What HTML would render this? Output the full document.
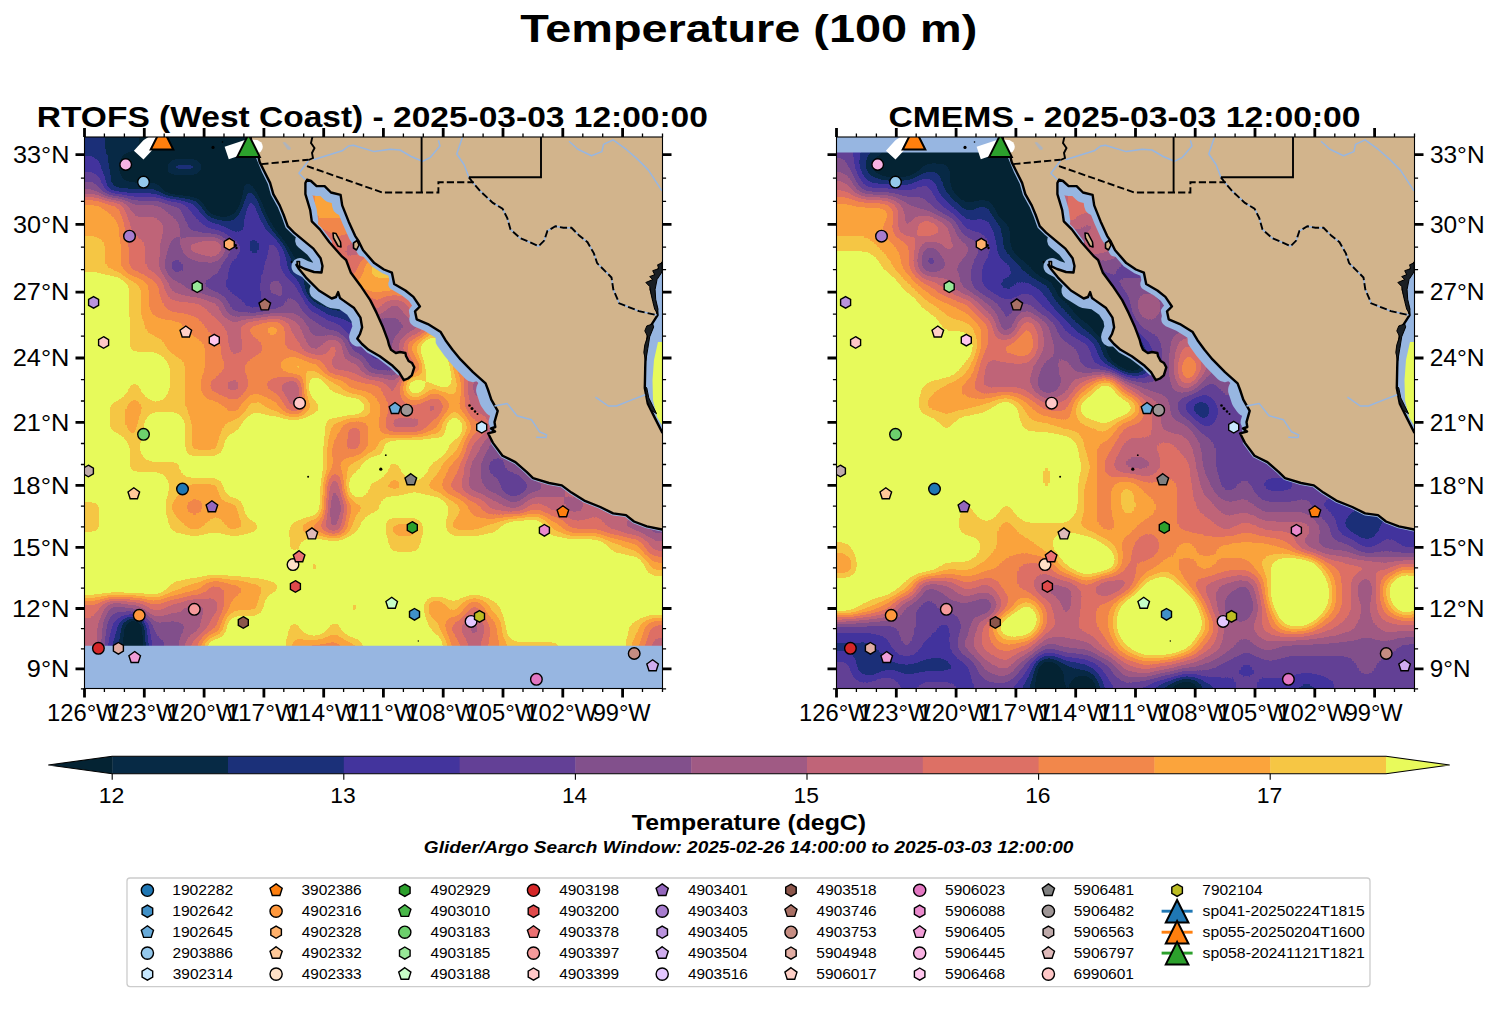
<!DOCTYPE html>
<html><head><meta charset="utf-8"><title>Temperature (100 m)</title>
<style>
html,body{margin:0;padding:0;background:#fff}
body{width:1497px;height:1014px;overflow:hidden;font-family:"Liberation Sans", sans-serif}
svg{display:block}
text{font-family:"Liberation Sans", sans-serif;fill:#000}
</style></head><body>
<svg width="1497" height="1014" viewBox="0 0 1497 1014">
<defs>
<filter id="fl" x="0" y="0" width="100%" height="100%" filterUnits="objectBoundingBox" color-interpolation-filters="sRGB">
<feGaussianBlur stdDeviation="6.5"/>
<feComponentTransfer><feFuncR type="discrete" tableValues="0.0157 0.0157 0.0157 0.0157 0.0275 0.1059 0.2627 0.3882 0.5098 0.6275 0.7529 0.8667 0.9490 0.9843 0.9647 0.9098 0.9098 0.9098 0.9098 0.9098 0.9098"/><feFuncG type="discrete" tableValues="0.1373 0.1373 0.1373 0.1373 0.1647 0.1882 0.2039 0.2510 0.3137 0.3529 0.3922 0.4392 0.5294 0.6431 0.7765 0.9804 0.9804 0.9804 0.9804 0.9804 0.9804"/><feFuncB type="discrete" tableValues="0.2000 0.2000 0.2000 0.2000 0.2706 0.4745 0.6157 0.5882 0.5490 0.5176 0.4706 0.3961 0.2941 0.2353 0.2667 0.3569 0.3569 0.3569 0.3569 0.3569 0.3569"/></feComponentTransfer>
</filter>
<filter id="fr" x="0" y="0" width="100%" height="100%" filterUnits="objectBoundingBox" color-interpolation-filters="sRGB">
<feGaussianBlur stdDeviation="7.5"/>
<feComponentTransfer><feFuncR type="discrete" tableValues="0.0157 0.0157 0.0157 0.0157 0.0275 0.1059 0.2627 0.3882 0.5098 0.6275 0.7529 0.8667 0.9490 0.9843 0.9647 0.9098 0.9098 0.9098 0.9098 0.9098 0.9098"/><feFuncG type="discrete" tableValues="0.1373 0.1373 0.1373 0.1373 0.1647 0.1882 0.2039 0.2510 0.3137 0.3529 0.3922 0.4392 0.5294 0.6431 0.7765 0.9804 0.9804 0.9804 0.9804 0.9804 0.9804"/><feFuncB type="discrete" tableValues="0.2000 0.2000 0.2000 0.2000 0.2706 0.4745 0.6157 0.5882 0.5490 0.5176 0.4706 0.3961 0.2941 0.2353 0.2667 0.3569 0.3569 0.3569 0.3569 0.3569 0.3569"/></feComponentTransfer>
</filter>
<clipPath id="cl"><rect x="84.5" y="137.0" width="578.0" height="551.5"/></clipPath>
<clipPath id="cr"><rect x="836.5" y="137.0" width="578.0" height="551.5"/></clipPath>
<clipPath id="dl"><rect x="84.5" y="137.0" width="578.0" height="508.8"/></clipPath>
<clipPath id="dr"><rect x="836.5" y="152.5" width="578.0" height="536.0"/></clipPath>
</defs>
<text x="520.23" y="42.40" font-size="39.60" font-weight="bold" textLength="457.01" lengthAdjust="spacingAndGlyphs">Temperature (100 m)</text>
<text x="36.82" y="126.50" font-size="28.70" font-weight="bold" textLength="671.09" lengthAdjust="spacingAndGlyphs">RTOFS (West Coast) - 2025-03-03 12:00:00</text>
<text x="888.45" y="126.50" font-size="28.70" font-weight="bold" textLength="472.18" lengthAdjust="spacingAndGlyphs">CMEMS - 2025-03-03 12:00:00</text>
<rect x="84.5" y="137.0" width="578.0" height="551.5" fill="#97b6e1"/>
<g clip-path="url(#dl)"><g filter="url(#fl)">
<rect x="24.5" y="77.0" width="700.0" height="680.0" fill="#737373"/>
<rect x="24.5" y="77.0" width="80.5" height="20.5" fill="#434343"/>
<rect x="104.5" y="77.0" width="40.5" height="20.5" fill="#373737"/>
<rect x="144.5" y="77.0" width="160.5" height="20.5" fill="#121212"/>
<rect x="304.5" y="77.0" width="420.5" height="20.5" fill="#a4a4a4"/>
<rect x="24.5" y="97.0" width="80.5" height="20.5" fill="#434343"/>
<rect x="104.5" y="97.0" width="40.5" height="20.5" fill="#373737"/>
<rect x="144.5" y="97.0" width="160.5" height="20.5" fill="#121212"/>
<rect x="304.5" y="97.0" width="420.5" height="20.5" fill="#a4a4a4"/>
<rect x="24.5" y="117.0" width="80.5" height="20.5" fill="#434343"/>
<rect x="104.5" y="117.0" width="40.5" height="20.5" fill="#373737"/>
<rect x="144.5" y="117.0" width="160.5" height="20.5" fill="#121212"/>
<rect x="304.5" y="117.0" width="420.5" height="20.5" fill="#a4a4a4"/>
<rect x="24.5" y="137.0" width="80.5" height="20.5" fill="#434343"/>
<rect x="104.5" y="137.0" width="40.5" height="20.5" fill="#373737"/>
<rect x="144.5" y="137.0" width="160.5" height="20.5" fill="#121212"/>
<rect x="304.5" y="137.0" width="420.5" height="20.5" fill="#a4a4a4"/>
<rect x="24.5" y="157.0" width="80.5" height="20.5" fill="#4f4f4f"/>
<rect x="104.5" y="157.0" width="20.5" height="20.5" fill="#373737"/>
<rect x="124.5" y="157.0" width="40.5" height="20.5" fill="#121212"/>
<rect x="164.5" y="157.0" width="40.5" height="20.5" fill="#434343"/>
<rect x="204.5" y="157.0" width="100.5" height="20.5" fill="#121212"/>
<rect x="304.5" y="157.0" width="420.5" height="20.5" fill="#a4a4a4"/>
<rect x="24.5" y="177.0" width="80.5" height="20.5" fill="#676767"/>
<rect x="104.5" y="177.0" width="60.5" height="20.5" fill="#373737"/>
<rect x="164.5" y="177.0" width="60.5" height="20.5" fill="#121212"/>
<rect x="224.5" y="177.0" width="20.5" height="20.5" fill="#373737"/>
<rect x="244.5" y="177.0" width="20.5" height="20.5" fill="#434343"/>
<rect x="264.5" y="177.0" width="40.5" height="20.5" fill="#121212"/>
<rect x="304.5" y="177.0" width="420.5" height="20.5" fill="#a4a4a4"/>
<rect x="24.5" y="197.0" width="80.5" height="20.5" fill="#a4a4a4"/>
<rect x="104.5" y="197.0" width="20.5" height="20.5" fill="#989898"/>
<rect x="124.5" y="197.0" width="40.5" height="20.5" fill="#737373"/>
<rect x="164.5" y="197.0" width="20.5" height="20.5" fill="#676767"/>
<rect x="184.5" y="197.0" width="20.5" height="20.5" fill="#4f4f4f"/>
<rect x="204.5" y="197.0" width="20.5" height="20.5" fill="#373737"/>
<rect x="224.5" y="197.0" width="20.5" height="20.5" fill="#434343"/>
<rect x="244.5" y="197.0" width="20.5" height="20.5" fill="#4f4f4f"/>
<rect x="264.5" y="197.0" width="40.5" height="20.5" fill="#373737"/>
<rect x="304.5" y="197.0" width="420.5" height="20.5" fill="#a4a4a4"/>
<rect x="24.5" y="217.0" width="100.5" height="20.5" fill="#a4a4a4"/>
<rect x="124.5" y="217.0" width="40.5" height="20.5" fill="#808080"/>
<rect x="164.5" y="217.0" width="20.5" height="20.5" fill="#737373"/>
<rect x="184.5" y="217.0" width="20.5" height="20.5" fill="#5b5b5b"/>
<rect x="204.5" y="217.0" width="20.5" height="20.5" fill="#4f4f4f"/>
<rect x="224.5" y="217.0" width="20.5" height="20.5" fill="#434343"/>
<rect x="244.5" y="217.0" width="40.5" height="20.5" fill="#4f4f4f"/>
<rect x="284.5" y="217.0" width="20.5" height="20.5" fill="#373737"/>
<rect x="304.5" y="217.0" width="420.5" height="20.5" fill="#989898"/>
<rect x="24.5" y="237.0" width="80.5" height="20.5" fill="#b0b0b0"/>
<rect x="104.5" y="237.0" width="20.5" height="20.5" fill="#a4a4a4"/>
<rect x="124.5" y="237.0" width="20.5" height="20.5" fill="#8c8c8c"/>
<rect x="144.5" y="237.0" width="20.5" height="20.5" fill="#808080"/>
<rect x="164.5" y="237.0" width="20.5" height="20.5" fill="#676767"/>
<rect x="184.5" y="237.0" width="20.5" height="20.5" fill="#808080"/>
<rect x="204.5" y="237.0" width="20.5" height="20.5" fill="#8c8c8c"/>
<rect x="224.5" y="237.0" width="20.5" height="20.5" fill="#5b5b5b"/>
<rect x="244.5" y="237.0" width="20.5" height="20.5" fill="#434343"/>
<rect x="264.5" y="237.0" width="20.5" height="20.5" fill="#5b5b5b"/>
<rect x="284.5" y="237.0" width="40.5" height="20.5" fill="#434343"/>
<rect x="324.5" y="237.0" width="20.5" height="20.5" fill="#8c8c8c"/>
<rect x="344.5" y="237.0" width="380.5" height="20.5" fill="#808080"/>
<rect x="24.5" y="257.0" width="80.5" height="20.5" fill="#b0b0b0"/>
<rect x="104.5" y="257.0" width="20.5" height="20.5" fill="#a4a4a4"/>
<rect x="124.5" y="257.0" width="20.5" height="20.5" fill="#8c8c8c"/>
<rect x="144.5" y="257.0" width="20.5" height="20.5" fill="#808080"/>
<rect x="164.5" y="257.0" width="20.5" height="20.5" fill="#5b5b5b"/>
<rect x="184.5" y="257.0" width="40.5" height="20.5" fill="#676767"/>
<rect x="224.5" y="257.0" width="40.5" height="20.5" fill="#4f4f4f"/>
<rect x="264.5" y="257.0" width="20.5" height="20.5" fill="#5b5b5b"/>
<rect x="284.5" y="257.0" width="20.5" height="20.5" fill="#434343"/>
<rect x="304.5" y="257.0" width="20.5" height="20.5" fill="#373737"/>
<rect x="324.5" y="257.0" width="20.5" height="20.5" fill="#808080"/>
<rect x="344.5" y="257.0" width="20.5" height="20.5" fill="#8c8c8c"/>
<rect x="364.5" y="257.0" width="360.5" height="20.5" fill="#b0b0b0"/>
<rect x="24.5" y="277.0" width="100.5" height="20.5" fill="#cecece"/>
<rect x="124.5" y="277.0" width="20.5" height="20.5" fill="#b0b0b0"/>
<rect x="144.5" y="277.0" width="20.5" height="20.5" fill="#989898"/>
<rect x="164.5" y="277.0" width="20.5" height="20.5" fill="#737373"/>
<rect x="184.5" y="277.0" width="20.5" height="20.5" fill="#676767"/>
<rect x="204.5" y="277.0" width="20.5" height="20.5" fill="#5b5b5b"/>
<rect x="224.5" y="277.0" width="40.5" height="20.5" fill="#4f4f4f"/>
<rect x="264.5" y="277.0" width="20.5" height="20.5" fill="#676767"/>
<rect x="284.5" y="277.0" width="20.5" height="20.5" fill="#5b5b5b"/>
<rect x="304.5" y="277.0" width="40.5" height="20.5" fill="#434343"/>
<rect x="344.5" y="277.0" width="380.5" height="20.5" fill="#a4a4a4"/>
<rect x="24.5" y="297.0" width="100.5" height="20.5" fill="#cecece"/>
<rect x="124.5" y="297.0" width="20.5" height="20.5" fill="#b0b0b0"/>
<rect x="144.5" y="297.0" width="20.5" height="20.5" fill="#989898"/>
<rect x="164.5" y="297.0" width="40.5" height="20.5" fill="#8c8c8c"/>
<rect x="204.5" y="297.0" width="20.5" height="20.5" fill="#808080"/>
<rect x="224.5" y="297.0" width="20.5" height="20.5" fill="#5b5b5b"/>
<rect x="244.5" y="297.0" width="20.5" height="20.5" fill="#4f4f4f"/>
<rect x="264.5" y="297.0" width="20.5" height="20.5" fill="#5b5b5b"/>
<rect x="284.5" y="297.0" width="20.5" height="20.5" fill="#676767"/>
<rect x="304.5" y="297.0" width="20.5" height="20.5" fill="#4f4f4f"/>
<rect x="324.5" y="297.0" width="20.5" height="20.5" fill="#373737"/>
<rect x="344.5" y="297.0" width="20.5" height="20.5" fill="#434343"/>
<rect x="364.5" y="297.0" width="20.5" height="20.5" fill="#8c8c8c"/>
<rect x="384.5" y="297.0" width="20.5" height="20.5" fill="#737373"/>
<rect x="404.5" y="297.0" width="320.5" height="20.5" fill="#8c8c8c"/>
<rect x="24.5" y="317.0" width="100.5" height="20.5" fill="#cecece"/>
<rect x="124.5" y="317.0" width="20.5" height="20.5" fill="#b0b0b0"/>
<rect x="144.5" y="317.0" width="40.5" height="20.5" fill="#a4a4a4"/>
<rect x="184.5" y="317.0" width="20.5" height="20.5" fill="#989898"/>
<rect x="204.5" y="317.0" width="20.5" height="20.5" fill="#8c8c8c"/>
<rect x="224.5" y="317.0" width="20.5" height="20.5" fill="#808080"/>
<rect x="244.5" y="317.0" width="20.5" height="20.5" fill="#989898"/>
<rect x="264.5" y="317.0" width="20.5" height="20.5" fill="#a4a4a4"/>
<rect x="284.5" y="317.0" width="20.5" height="20.5" fill="#808080"/>
<rect x="304.5" y="317.0" width="20.5" height="20.5" fill="#676767"/>
<rect x="324.5" y="317.0" width="20.5" height="20.5" fill="#5b5b5b"/>
<rect x="344.5" y="317.0" width="20.5" height="20.5" fill="#434343"/>
<rect x="364.5" y="317.0" width="20.5" height="20.5" fill="#5b5b5b"/>
<rect x="384.5" y="317.0" width="20.5" height="20.5" fill="#676767"/>
<rect x="404.5" y="317.0" width="20.5" height="20.5" fill="#737373"/>
<rect x="424.5" y="317.0" width="200.5" height="20.5" fill="#989898"/>
<rect x="624.5" y="317.0" width="100.5" height="20.5" fill="#cecece"/>
<rect x="24.5" y="337.0" width="100.5" height="20.5" fill="#cecece"/>
<rect x="124.5" y="337.0" width="40.5" height="20.5" fill="#b0b0b0"/>
<rect x="164.5" y="337.0" width="40.5" height="20.5" fill="#a4a4a4"/>
<rect x="204.5" y="337.0" width="20.5" height="20.5" fill="#989898"/>
<rect x="224.5" y="337.0" width="20.5" height="20.5" fill="#808080"/>
<rect x="244.5" y="337.0" width="20.5" height="20.5" fill="#8c8c8c"/>
<rect x="264.5" y="337.0" width="20.5" height="20.5" fill="#989898"/>
<rect x="284.5" y="337.0" width="20.5" height="20.5" fill="#8c8c8c"/>
<rect x="304.5" y="337.0" width="20.5" height="20.5" fill="#737373"/>
<rect x="324.5" y="337.0" width="20.5" height="20.5" fill="#8c8c8c"/>
<rect x="344.5" y="337.0" width="20.5" height="20.5" fill="#5b5b5b"/>
<rect x="364.5" y="337.0" width="20.5" height="20.5" fill="#434343"/>
<rect x="384.5" y="337.0" width="20.5" height="20.5" fill="#737373"/>
<rect x="404.5" y="337.0" width="20.5" height="20.5" fill="#a4a4a4"/>
<rect x="424.5" y="337.0" width="20.5" height="20.5" fill="#cecece"/>
<rect x="444.5" y="337.0" width="180.5" height="20.5" fill="#989898"/>
<rect x="624.5" y="337.0" width="100.5" height="20.5" fill="#cecece"/>
<rect x="24.5" y="357.0" width="140.5" height="20.5" fill="#cecece"/>
<rect x="164.5" y="357.0" width="20.5" height="20.5" fill="#b0b0b0"/>
<rect x="184.5" y="357.0" width="20.5" height="20.5" fill="#a4a4a4"/>
<rect x="204.5" y="357.0" width="20.5" height="20.5" fill="#989898"/>
<rect x="224.5" y="357.0" width="20.5" height="20.5" fill="#8c8c8c"/>
<rect x="244.5" y="357.0" width="40.5" height="20.5" fill="#989898"/>
<rect x="284.5" y="357.0" width="20.5" height="20.5" fill="#b0b0b0"/>
<rect x="304.5" y="357.0" width="20.5" height="20.5" fill="#a4a4a4"/>
<rect x="324.5" y="357.0" width="40.5" height="20.5" fill="#808080"/>
<rect x="364.5" y="357.0" width="20.5" height="20.5" fill="#5b5b5b"/>
<rect x="384.5" y="357.0" width="20.5" height="20.5" fill="#676767"/>
<rect x="404.5" y="357.0" width="20.5" height="20.5" fill="#8c8c8c"/>
<rect x="424.5" y="357.0" width="20.5" height="20.5" fill="#b0b0b0"/>
<rect x="444.5" y="357.0" width="20.5" height="20.5" fill="#989898"/>
<rect x="464.5" y="357.0" width="160.5" height="20.5" fill="#808080"/>
<rect x="624.5" y="357.0" width="100.5" height="20.5" fill="#cecece"/>
<rect x="24.5" y="377.0" width="100.5" height="20.5" fill="#cecece"/>
<rect x="124.5" y="377.0" width="20.5" height="20.5" fill="#b0b0b0"/>
<rect x="144.5" y="377.0" width="20.5" height="20.5" fill="#cecece"/>
<rect x="164.5" y="377.0" width="20.5" height="20.5" fill="#b0b0b0"/>
<rect x="184.5" y="377.0" width="20.5" height="20.5" fill="#a4a4a4"/>
<rect x="204.5" y="377.0" width="20.5" height="20.5" fill="#8c8c8c"/>
<rect x="224.5" y="377.0" width="20.5" height="20.5" fill="#808080"/>
<rect x="244.5" y="377.0" width="20.5" height="20.5" fill="#989898"/>
<rect x="264.5" y="377.0" width="20.5" height="20.5" fill="#8c8c8c"/>
<rect x="284.5" y="377.0" width="20.5" height="20.5" fill="#737373"/>
<rect x="304.5" y="377.0" width="20.5" height="20.5" fill="#cecece"/>
<rect x="324.5" y="377.0" width="20.5" height="20.5" fill="#b0b0b0"/>
<rect x="344.5" y="377.0" width="40.5" height="20.5" fill="#989898"/>
<rect x="384.5" y="377.0" width="20.5" height="20.5" fill="#808080"/>
<rect x="404.5" y="377.0" width="20.5" height="20.5" fill="#cecece"/>
<rect x="424.5" y="377.0" width="20.5" height="20.5" fill="#a4a4a4"/>
<rect x="444.5" y="377.0" width="20.5" height="20.5" fill="#b0b0b0"/>
<rect x="464.5" y="377.0" width="160.5" height="20.5" fill="#737373"/>
<rect x="624.5" y="377.0" width="100.5" height="20.5" fill="#cecece"/>
<rect x="24.5" y="397.0" width="80.5" height="20.5" fill="#cecece"/>
<rect x="104.5" y="397.0" width="20.5" height="20.5" fill="#b0b0b0"/>
<rect x="124.5" y="397.0" width="20.5" height="20.5" fill="#a4a4a4"/>
<rect x="144.5" y="397.0" width="40.5" height="20.5" fill="#b0b0b0"/>
<rect x="184.5" y="397.0" width="40.5" height="20.5" fill="#a4a4a4"/>
<rect x="224.5" y="397.0" width="20.5" height="20.5" fill="#989898"/>
<rect x="244.5" y="397.0" width="20.5" height="20.5" fill="#b0b0b0"/>
<rect x="264.5" y="397.0" width="20.5" height="20.5" fill="#a4a4a4"/>
<rect x="284.5" y="397.0" width="20.5" height="20.5" fill="#808080"/>
<rect x="304.5" y="397.0" width="20.5" height="20.5" fill="#b0b0b0"/>
<rect x="324.5" y="397.0" width="40.5" height="20.5" fill="#cecece"/>
<rect x="364.5" y="397.0" width="20.5" height="20.5" fill="#a4a4a4"/>
<rect x="384.5" y="397.0" width="40.5" height="20.5" fill="#8c8c8c"/>
<rect x="424.5" y="397.0" width="20.5" height="20.5" fill="#808080"/>
<rect x="444.5" y="397.0" width="20.5" height="20.5" fill="#a4a4a4"/>
<rect x="464.5" y="397.0" width="160.5" height="20.5" fill="#808080"/>
<rect x="624.5" y="397.0" width="100.5" height="20.5" fill="#cecece"/>
<rect x="24.5" y="417.0" width="80.5" height="20.5" fill="#cecece"/>
<rect x="104.5" y="417.0" width="20.5" height="20.5" fill="#b0b0b0"/>
<rect x="124.5" y="417.0" width="20.5" height="20.5" fill="#a4a4a4"/>
<rect x="144.5" y="417.0" width="40.5" height="20.5" fill="#cecece"/>
<rect x="184.5" y="417.0" width="40.5" height="20.5" fill="#a4a4a4"/>
<rect x="224.5" y="417.0" width="20.5" height="20.5" fill="#b0b0b0"/>
<rect x="244.5" y="417.0" width="80.5" height="20.5" fill="#cecece"/>
<rect x="324.5" y="417.0" width="20.5" height="20.5" fill="#a4a4a4"/>
<rect x="344.5" y="417.0" width="20.5" height="20.5" fill="#8c8c8c"/>
<rect x="364.5" y="417.0" width="20.5" height="20.5" fill="#a4a4a4"/>
<rect x="384.5" y="417.0" width="40.5" height="20.5" fill="#808080"/>
<rect x="424.5" y="417.0" width="20.5" height="20.5" fill="#989898"/>
<rect x="444.5" y="417.0" width="20.5" height="20.5" fill="#cecece"/>
<rect x="464.5" y="417.0" width="20.5" height="20.5" fill="#989898"/>
<rect x="484.5" y="417.0" width="140.5" height="20.5" fill="#808080"/>
<rect x="624.5" y="417.0" width="100.5" height="20.5" fill="#cecece"/>
<rect x="24.5" y="437.0" width="100.5" height="20.5" fill="#cecece"/>
<rect x="124.5" y="437.0" width="20.5" height="20.5" fill="#b0b0b0"/>
<rect x="144.5" y="437.0" width="40.5" height="20.5" fill="#cecece"/>
<rect x="184.5" y="437.0" width="40.5" height="20.5" fill="#a4a4a4"/>
<rect x="224.5" y="437.0" width="100.5" height="20.5" fill="#cecece"/>
<rect x="324.5" y="437.0" width="20.5" height="20.5" fill="#989898"/>
<rect x="344.5" y="437.0" width="20.5" height="20.5" fill="#8c8c8c"/>
<rect x="364.5" y="437.0" width="20.5" height="20.5" fill="#a4a4a4"/>
<rect x="384.5" y="437.0" width="60.5" height="20.5" fill="#cecece"/>
<rect x="444.5" y="437.0" width="20.5" height="20.5" fill="#b0b0b0"/>
<rect x="464.5" y="437.0" width="20.5" height="20.5" fill="#808080"/>
<rect x="484.5" y="437.0" width="240.5" height="20.5" fill="#676767"/>
<rect x="24.5" y="457.0" width="100.5" height="20.5" fill="#cecece"/>
<rect x="124.5" y="457.0" width="60.5" height="20.5" fill="#b0b0b0"/>
<rect x="184.5" y="457.0" width="140.5" height="20.5" fill="#cecece"/>
<rect x="324.5" y="457.0" width="20.5" height="20.5" fill="#989898"/>
<rect x="344.5" y="457.0" width="20.5" height="20.5" fill="#b0b0b0"/>
<rect x="364.5" y="457.0" width="20.5" height="20.5" fill="#cecece"/>
<rect x="384.5" y="457.0" width="20.5" height="20.5" fill="#b0b0b0"/>
<rect x="404.5" y="457.0" width="20.5" height="20.5" fill="#cecece"/>
<rect x="424.5" y="457.0" width="20.5" height="20.5" fill="#b0b0b0"/>
<rect x="444.5" y="457.0" width="20.5" height="20.5" fill="#989898"/>
<rect x="464.5" y="457.0" width="20.5" height="20.5" fill="#737373"/>
<rect x="484.5" y="457.0" width="20.5" height="20.5" fill="#5b5b5b"/>
<rect x="504.5" y="457.0" width="20.5" height="20.5" fill="#676767"/>
<rect x="524.5" y="457.0" width="200.5" height="20.5" fill="#808080"/>
<rect x="24.5" y="477.0" width="140.5" height="20.5" fill="#cecece"/>
<rect x="164.5" y="477.0" width="20.5" height="20.5" fill="#b0b0b0"/>
<rect x="184.5" y="477.0" width="40.5" height="20.5" fill="#a4a4a4"/>
<rect x="224.5" y="477.0" width="100.5" height="20.5" fill="#cecece"/>
<rect x="324.5" y="477.0" width="20.5" height="20.5" fill="#737373"/>
<rect x="344.5" y="477.0" width="20.5" height="20.5" fill="#cecece"/>
<rect x="364.5" y="477.0" width="20.5" height="20.5" fill="#b0b0b0"/>
<rect x="384.5" y="477.0" width="20.5" height="20.5" fill="#a4a4a4"/>
<rect x="404.5" y="477.0" width="20.5" height="20.5" fill="#b0b0b0"/>
<rect x="424.5" y="477.0" width="20.5" height="20.5" fill="#a4a4a4"/>
<rect x="444.5" y="477.0" width="20.5" height="20.5" fill="#8c8c8c"/>
<rect x="464.5" y="477.0" width="20.5" height="20.5" fill="#737373"/>
<rect x="484.5" y="477.0" width="20.5" height="20.5" fill="#676767"/>
<rect x="504.5" y="477.0" width="20.5" height="20.5" fill="#4f4f4f"/>
<rect x="524.5" y="477.0" width="20.5" height="20.5" fill="#676767"/>
<rect x="544.5" y="477.0" width="20.5" height="20.5" fill="#737373"/>
<rect x="564.5" y="477.0" width="160.5" height="20.5" fill="#808080"/>
<rect x="24.5" y="497.0" width="80.5" height="20.5" fill="#b0b0b0"/>
<rect x="104.5" y="497.0" width="60.5" height="20.5" fill="#cecece"/>
<rect x="164.5" y="497.0" width="20.5" height="20.5" fill="#a4a4a4"/>
<rect x="184.5" y="497.0" width="20.5" height="20.5" fill="#989898"/>
<rect x="204.5" y="497.0" width="40.5" height="20.5" fill="#a4a4a4"/>
<rect x="244.5" y="497.0" width="80.5" height="20.5" fill="#cecece"/>
<rect x="324.5" y="497.0" width="20.5" height="20.5" fill="#676767"/>
<rect x="344.5" y="497.0" width="20.5" height="20.5" fill="#a4a4a4"/>
<rect x="364.5" y="497.0" width="20.5" height="20.5" fill="#b0b0b0"/>
<rect x="384.5" y="497.0" width="60.5" height="20.5" fill="#cecece"/>
<rect x="444.5" y="497.0" width="20.5" height="20.5" fill="#b0b0b0"/>
<rect x="464.5" y="497.0" width="20.5" height="20.5" fill="#989898"/>
<rect x="484.5" y="497.0" width="20.5" height="20.5" fill="#808080"/>
<rect x="504.5" y="497.0" width="20.5" height="20.5" fill="#737373"/>
<rect x="524.5" y="497.0" width="20.5" height="20.5" fill="#8c8c8c"/>
<rect x="544.5" y="497.0" width="20.5" height="20.5" fill="#808080"/>
<rect x="564.5" y="497.0" width="20.5" height="20.5" fill="#737373"/>
<rect x="584.5" y="497.0" width="140.5" height="20.5" fill="#808080"/>
<rect x="24.5" y="517.0" width="80.5" height="20.5" fill="#b0b0b0"/>
<rect x="104.5" y="517.0" width="60.5" height="20.5" fill="#cecece"/>
<rect x="164.5" y="517.0" width="20.5" height="20.5" fill="#b0b0b0"/>
<rect x="184.5" y="517.0" width="20.5" height="20.5" fill="#a4a4a4"/>
<rect x="204.5" y="517.0" width="20.5" height="20.5" fill="#b0b0b0"/>
<rect x="224.5" y="517.0" width="20.5" height="20.5" fill="#a4a4a4"/>
<rect x="244.5" y="517.0" width="20.5" height="20.5" fill="#b0b0b0"/>
<rect x="264.5" y="517.0" width="20.5" height="20.5" fill="#cecece"/>
<rect x="284.5" y="517.0" width="20.5" height="20.5" fill="#b0b0b0"/>
<rect x="304.5" y="517.0" width="20.5" height="20.5" fill="#989898"/>
<rect x="324.5" y="517.0" width="20.5" height="20.5" fill="#737373"/>
<rect x="344.5" y="517.0" width="20.5" height="20.5" fill="#b0b0b0"/>
<rect x="364.5" y="517.0" width="20.5" height="20.5" fill="#cecece"/>
<rect x="384.5" y="517.0" width="40.5" height="20.5" fill="#a4a4a4"/>
<rect x="424.5" y="517.0" width="20.5" height="20.5" fill="#cecece"/>
<rect x="444.5" y="517.0" width="40.5" height="20.5" fill="#a4a4a4"/>
<rect x="484.5" y="517.0" width="20.5" height="20.5" fill="#b0b0b0"/>
<rect x="504.5" y="517.0" width="40.5" height="20.5" fill="#cecece"/>
<rect x="544.5" y="517.0" width="20.5" height="20.5" fill="#a4a4a4"/>
<rect x="564.5" y="517.0" width="40.5" height="20.5" fill="#8c8c8c"/>
<rect x="604.5" y="517.0" width="20.5" height="20.5" fill="#808080"/>
<rect x="624.5" y="517.0" width="20.5" height="20.5" fill="#737373"/>
<rect x="644.5" y="517.0" width="80.5" height="20.5" fill="#676767"/>
<rect x="24.5" y="537.0" width="260.5" height="20.5" fill="#cecece"/>
<rect x="284.5" y="537.0" width="20.5" height="20.5" fill="#b0b0b0"/>
<rect x="304.5" y="537.0" width="80.5" height="20.5" fill="#cecece"/>
<rect x="384.5" y="537.0" width="40.5" height="20.5" fill="#b0b0b0"/>
<rect x="424.5" y="537.0" width="180.5" height="20.5" fill="#cecece"/>
<rect x="604.5" y="537.0" width="20.5" height="20.5" fill="#b0b0b0"/>
<rect x="624.5" y="537.0" width="20.5" height="20.5" fill="#a4a4a4"/>
<rect x="644.5" y="537.0" width="80.5" height="20.5" fill="#808080"/>
<rect x="24.5" y="557.0" width="280.5" height="20.5" fill="#cecece"/>
<rect x="304.5" y="557.0" width="20.5" height="20.5" fill="#b0b0b0"/>
<rect x="324.5" y="557.0" width="320.5" height="20.5" fill="#cecece"/>
<rect x="644.5" y="557.0" width="80.5" height="20.5" fill="#a4a4a4"/>
<rect x="24.5" y="577.0" width="140.5" height="20.5" fill="#cecece"/>
<rect x="164.5" y="577.0" width="20.5" height="20.5" fill="#b0b0b0"/>
<rect x="184.5" y="577.0" width="20.5" height="20.5" fill="#a4a4a4"/>
<rect x="204.5" y="577.0" width="20.5" height="20.5" fill="#8c8c8c"/>
<rect x="224.5" y="577.0" width="20.5" height="20.5" fill="#989898"/>
<rect x="244.5" y="577.0" width="20.5" height="20.5" fill="#a4a4a4"/>
<rect x="264.5" y="577.0" width="20.5" height="20.5" fill="#b0b0b0"/>
<rect x="284.5" y="577.0" width="440.5" height="20.5" fill="#cecece"/>
<rect x="24.5" y="597.0" width="80.5" height="20.5" fill="#8c8c8c"/>
<rect x="104.5" y="597.0" width="20.5" height="20.5" fill="#676767"/>
<rect x="124.5" y="597.0" width="20.5" height="20.5" fill="#737373"/>
<rect x="144.5" y="597.0" width="20.5" height="20.5" fill="#8c8c8c"/>
<rect x="164.5" y="597.0" width="20.5" height="20.5" fill="#808080"/>
<rect x="184.5" y="597.0" width="20.5" height="20.5" fill="#737373"/>
<rect x="204.5" y="597.0" width="20.5" height="20.5" fill="#808080"/>
<rect x="224.5" y="597.0" width="40.5" height="20.5" fill="#a4a4a4"/>
<rect x="264.5" y="597.0" width="80.5" height="20.5" fill="#cecece"/>
<rect x="344.5" y="597.0" width="20.5" height="20.5" fill="#b0b0b0"/>
<rect x="364.5" y="597.0" width="60.5" height="20.5" fill="#cecece"/>
<rect x="424.5" y="597.0" width="20.5" height="20.5" fill="#989898"/>
<rect x="444.5" y="597.0" width="20.5" height="20.5" fill="#b0b0b0"/>
<rect x="464.5" y="597.0" width="20.5" height="20.5" fill="#8c8c8c"/>
<rect x="484.5" y="597.0" width="20.5" height="20.5" fill="#b0b0b0"/>
<rect x="504.5" y="597.0" width="220.5" height="20.5" fill="#cecece"/>
<rect x="24.5" y="617.0" width="80.5" height="20.5" fill="#808080"/>
<rect x="104.5" y="617.0" width="20.5" height="20.5" fill="#4f4f4f"/>
<rect x="124.5" y="617.0" width="20.5" height="20.5" fill="#121212"/>
<rect x="144.5" y="617.0" width="40.5" height="20.5" fill="#676767"/>
<rect x="184.5" y="617.0" width="20.5" height="20.5" fill="#737373"/>
<rect x="204.5" y="617.0" width="20.5" height="20.5" fill="#8c8c8c"/>
<rect x="224.5" y="617.0" width="60.5" height="20.5" fill="#cecece"/>
<rect x="284.5" y="617.0" width="20.5" height="20.5" fill="#b0b0b0"/>
<rect x="304.5" y="617.0" width="20.5" height="20.5" fill="#cecece"/>
<rect x="324.5" y="617.0" width="20.5" height="20.5" fill="#b0b0b0"/>
<rect x="344.5" y="617.0" width="80.5" height="20.5" fill="#cecece"/>
<rect x="424.5" y="617.0" width="20.5" height="20.5" fill="#b0b0b0"/>
<rect x="444.5" y="617.0" width="20.5" height="20.5" fill="#8c8c8c"/>
<rect x="464.5" y="617.0" width="20.5" height="20.5" fill="#737373"/>
<rect x="484.5" y="617.0" width="20.5" height="20.5" fill="#989898"/>
<rect x="504.5" y="617.0" width="120.5" height="20.5" fill="#cecece"/>
<rect x="624.5" y="617.0" width="20.5" height="20.5" fill="#b0b0b0"/>
<rect x="644.5" y="617.0" width="80.5" height="20.5" fill="#8c8c8c"/>
<rect x="24.5" y="637.0" width="80.5" height="20.5" fill="#808080"/>
<rect x="104.5" y="637.0" width="20.5" height="20.5" fill="#434343"/>
<rect x="124.5" y="637.0" width="20.5" height="20.5" fill="#121212"/>
<rect x="144.5" y="637.0" width="20.5" height="20.5" fill="#5b5b5b"/>
<rect x="164.5" y="637.0" width="20.5" height="20.5" fill="#676767"/>
<rect x="184.5" y="637.0" width="20.5" height="20.5" fill="#8c8c8c"/>
<rect x="204.5" y="637.0" width="80.5" height="20.5" fill="#cecece"/>
<rect x="284.5" y="637.0" width="20.5" height="20.5" fill="#a4a4a4"/>
<rect x="304.5" y="637.0" width="40.5" height="20.5" fill="#989898"/>
<rect x="344.5" y="637.0" width="20.5" height="20.5" fill="#a4a4a4"/>
<rect x="364.5" y="637.0" width="80.5" height="20.5" fill="#cecece"/>
<rect x="444.5" y="637.0" width="20.5" height="20.5" fill="#989898"/>
<rect x="464.5" y="637.0" width="20.5" height="20.5" fill="#808080"/>
<rect x="484.5" y="637.0" width="20.5" height="20.5" fill="#989898"/>
<rect x="504.5" y="637.0" width="60.5" height="20.5" fill="#b0b0b0"/>
<rect x="564.5" y="637.0" width="60.5" height="20.5" fill="#cecece"/>
<rect x="624.5" y="637.0" width="20.5" height="20.5" fill="#a4a4a4"/>
<rect x="644.5" y="637.0" width="80.5" height="20.5" fill="#808080"/>
<rect x="24.5" y="657.0" width="80.5" height="20.5" fill="#808080"/>
<rect x="104.5" y="657.0" width="20.5" height="20.5" fill="#434343"/>
<rect x="124.5" y="657.0" width="20.5" height="20.5" fill="#121212"/>
<rect x="144.5" y="657.0" width="20.5" height="20.5" fill="#5b5b5b"/>
<rect x="164.5" y="657.0" width="20.5" height="20.5" fill="#676767"/>
<rect x="184.5" y="657.0" width="20.5" height="20.5" fill="#8c8c8c"/>
<rect x="204.5" y="657.0" width="80.5" height="20.5" fill="#cecece"/>
<rect x="284.5" y="657.0" width="20.5" height="20.5" fill="#a4a4a4"/>
<rect x="304.5" y="657.0" width="40.5" height="20.5" fill="#989898"/>
<rect x="344.5" y="657.0" width="20.5" height="20.5" fill="#a4a4a4"/>
<rect x="364.5" y="657.0" width="80.5" height="20.5" fill="#cecece"/>
<rect x="444.5" y="657.0" width="20.5" height="20.5" fill="#989898"/>
<rect x="464.5" y="657.0" width="20.5" height="20.5" fill="#808080"/>
<rect x="484.5" y="657.0" width="20.5" height="20.5" fill="#989898"/>
<rect x="504.5" y="657.0" width="60.5" height="20.5" fill="#b0b0b0"/>
<rect x="564.5" y="657.0" width="60.5" height="20.5" fill="#cecece"/>
<rect x="624.5" y="657.0" width="20.5" height="20.5" fill="#a4a4a4"/>
<rect x="644.5" y="657.0" width="80.5" height="20.5" fill="#808080"/>
<rect x="24.5" y="677.0" width="80.5" height="20.5" fill="#808080"/>
<rect x="104.5" y="677.0" width="20.5" height="20.5" fill="#434343"/>
<rect x="124.5" y="677.0" width="20.5" height="20.5" fill="#121212"/>
<rect x="144.5" y="677.0" width="20.5" height="20.5" fill="#5b5b5b"/>
<rect x="164.5" y="677.0" width="20.5" height="20.5" fill="#676767"/>
<rect x="184.5" y="677.0" width="20.5" height="20.5" fill="#8c8c8c"/>
<rect x="204.5" y="677.0" width="80.5" height="20.5" fill="#cecece"/>
<rect x="284.5" y="677.0" width="20.5" height="20.5" fill="#a4a4a4"/>
<rect x="304.5" y="677.0" width="40.5" height="20.5" fill="#989898"/>
<rect x="344.5" y="677.0" width="20.5" height="20.5" fill="#a4a4a4"/>
<rect x="364.5" y="677.0" width="80.5" height="20.5" fill="#cecece"/>
<rect x="444.5" y="677.0" width="20.5" height="20.5" fill="#989898"/>
<rect x="464.5" y="677.0" width="20.5" height="20.5" fill="#808080"/>
<rect x="484.5" y="677.0" width="20.5" height="20.5" fill="#989898"/>
<rect x="504.5" y="677.0" width="60.5" height="20.5" fill="#b0b0b0"/>
<rect x="564.5" y="677.0" width="60.5" height="20.5" fill="#cecece"/>
<rect x="624.5" y="677.0" width="20.5" height="20.5" fill="#a4a4a4"/>
<rect x="644.5" y="677.0" width="80.5" height="20.5" fill="#808080"/>
<rect x="24.5" y="697.0" width="80.5" height="20.5" fill="#808080"/>
<rect x="104.5" y="697.0" width="20.5" height="20.5" fill="#434343"/>
<rect x="124.5" y="697.0" width="20.5" height="20.5" fill="#121212"/>
<rect x="144.5" y="697.0" width="20.5" height="20.5" fill="#5b5b5b"/>
<rect x="164.5" y="697.0" width="20.5" height="20.5" fill="#676767"/>
<rect x="184.5" y="697.0" width="20.5" height="20.5" fill="#8c8c8c"/>
<rect x="204.5" y="697.0" width="80.5" height="20.5" fill="#cecece"/>
<rect x="284.5" y="697.0" width="20.5" height="20.5" fill="#a4a4a4"/>
<rect x="304.5" y="697.0" width="40.5" height="20.5" fill="#989898"/>
<rect x="344.5" y="697.0" width="20.5" height="20.5" fill="#a4a4a4"/>
<rect x="364.5" y="697.0" width="80.5" height="20.5" fill="#cecece"/>
<rect x="444.5" y="697.0" width="20.5" height="20.5" fill="#989898"/>
<rect x="464.5" y="697.0" width="20.5" height="20.5" fill="#808080"/>
<rect x="484.5" y="697.0" width="20.5" height="20.5" fill="#989898"/>
<rect x="504.5" y="697.0" width="60.5" height="20.5" fill="#b0b0b0"/>
<rect x="564.5" y="697.0" width="60.5" height="20.5" fill="#cecece"/>
<rect x="624.5" y="697.0" width="20.5" height="20.5" fill="#a4a4a4"/>
<rect x="644.5" y="697.0" width="80.5" height="20.5" fill="#808080"/>
<rect x="24.5" y="717.0" width="80.5" height="20.5" fill="#808080"/>
<rect x="104.5" y="717.0" width="20.5" height="20.5" fill="#434343"/>
<rect x="124.5" y="717.0" width="20.5" height="20.5" fill="#121212"/>
<rect x="144.5" y="717.0" width="20.5" height="20.5" fill="#5b5b5b"/>
<rect x="164.5" y="717.0" width="20.5" height="20.5" fill="#676767"/>
<rect x="184.5" y="717.0" width="20.5" height="20.5" fill="#8c8c8c"/>
<rect x="204.5" y="717.0" width="80.5" height="20.5" fill="#cecece"/>
<rect x="284.5" y="717.0" width="20.5" height="20.5" fill="#a4a4a4"/>
<rect x="304.5" y="717.0" width="40.5" height="20.5" fill="#989898"/>
<rect x="344.5" y="717.0" width="20.5" height="20.5" fill="#a4a4a4"/>
<rect x="364.5" y="717.0" width="80.5" height="20.5" fill="#cecece"/>
<rect x="444.5" y="717.0" width="20.5" height="20.5" fill="#989898"/>
<rect x="464.5" y="717.0" width="20.5" height="20.5" fill="#808080"/>
<rect x="484.5" y="717.0" width="20.5" height="20.5" fill="#989898"/>
<rect x="504.5" y="717.0" width="60.5" height="20.5" fill="#b0b0b0"/>
<rect x="564.5" y="717.0" width="60.5" height="20.5" fill="#cecece"/>
<rect x="624.5" y="717.0" width="20.5" height="20.5" fill="#a4a4a4"/>
<rect x="644.5" y="717.0" width="80.5" height="20.5" fill="#808080"/>
<rect x="24.5" y="737.0" width="80.5" height="20.5" fill="#808080"/>
<rect x="104.5" y="737.0" width="20.5" height="20.5" fill="#434343"/>
<rect x="124.5" y="737.0" width="20.5" height="20.5" fill="#121212"/>
<rect x="144.5" y="737.0" width="20.5" height="20.5" fill="#5b5b5b"/>
<rect x="164.5" y="737.0" width="20.5" height="20.5" fill="#676767"/>
<rect x="184.5" y="737.0" width="20.5" height="20.5" fill="#8c8c8c"/>
<rect x="204.5" y="737.0" width="80.5" height="20.5" fill="#cecece"/>
<rect x="284.5" y="737.0" width="20.5" height="20.5" fill="#a4a4a4"/>
<rect x="304.5" y="737.0" width="40.5" height="20.5" fill="#989898"/>
<rect x="344.5" y="737.0" width="20.5" height="20.5" fill="#a4a4a4"/>
<rect x="364.5" y="737.0" width="80.5" height="20.5" fill="#cecece"/>
<rect x="444.5" y="737.0" width="20.5" height="20.5" fill="#989898"/>
<rect x="464.5" y="737.0" width="20.5" height="20.5" fill="#808080"/>
<rect x="484.5" y="737.0" width="20.5" height="20.5" fill="#989898"/>
<rect x="504.5" y="737.0" width="60.5" height="20.5" fill="#b0b0b0"/>
<rect x="564.5" y="737.0" width="60.5" height="20.5" fill="#cecece"/>
<rect x="624.5" y="737.0" width="20.5" height="20.5" fill="#a4a4a4"/>
<rect x="644.5" y="737.0" width="80.5" height="20.5" fill="#808080"/>
<ellipse cx="222.0" cy="195.0" rx="20.0" ry="22.0" fill="#121212" transform="rotate(0 222.0 195.0)"/>
<path d="M256.0,150.0 L262.0,170.0 L268.0,186.0 L274.0,200.0 L280.0,214.0 L288.0,228.0 L298.0,240.0 L310.0,252.0" fill="none" stroke="#121212" stroke-width="24.0" stroke-linejoin="round" stroke-linecap="round"/>
<ellipse cx="250.0" cy="206.0" rx="9.0" ry="14.0" fill="#4f4f4f" transform="rotate(0 250.0 206.0)"/>
<path d="M296.0,262.0 L306.0,282.0 L320.0,296.0 L334.0,303.0 L348.0,310.0" fill="none" stroke="#373737" stroke-width="12.0" stroke-linejoin="round" stroke-linecap="round"/>
<ellipse cx="318.0" cy="292.0" rx="12.0" ry="8.0" fill="#121212" transform="rotate(35 318.0 292.0)"/>
<path d="M356.0,318.0 L360.0,332.0 L366.0,346.0 L380.0,358.0 L396.0,370.0" fill="none" stroke="#4f4f4f" stroke-width="8.0" stroke-linejoin="round" stroke-linecap="round"/>
<ellipse cx="436.0" cy="362.0" rx="11.0" ry="25.0" fill="#e1e1e1" transform="rotate(-20 436.0 362.0)"/>
</g></g>
<g clip-path="url(#cl)">
<path d="M254.0,150.0 L258.5,157.3 L264.5,171.7 L270.1,182.9 L273.3,194.1 L279.7,205.4 L283.7,215.0 L287.7,226.2 L294.1,232.6 L303.7,240.6" fill="none" stroke="#97b6e1" stroke-width="5.0" stroke-linejoin="round" stroke-linecap="round"/>
<path d="M303.7,240.6 L313.4,248.6 L320.6,258.3 L322.5,266.0 L321.5,272.5 L314.0,272.0 L305.0,269.0 L300.0,266.5" fill="none" stroke="#97b6e1" stroke-width="17.0" stroke-linejoin="round" stroke-linecap="round"/>
<path d="M299.0,269.0 L306.0,277.6 L318.9,290.5" fill="none" stroke="#97b6e1" stroke-width="5.0" stroke-linejoin="round" stroke-linecap="round"/>
<path d="M318.9,290.5 L331.7,298.5 L342.9,300.1 L354.1,308.1 L360.5,317.7 L362.1,327.3 L358.5,337.0" fill="none" stroke="#97b6e1" stroke-width="19.0" stroke-linejoin="round" stroke-linecap="round"/>
<path d="M357.3,338.6 L368.6,349.8 L379.8,356.2 L392.6,365.8 L399.0,372.2" fill="none" stroke="#97b6e1" stroke-width="6.0" stroke-linejoin="round" stroke-linecap="round"/>
<path d="M307.0,181.0 L305.4,194.1 L310.2,210.2 L311.8,221.4" fill="none" stroke="#97b6e1" stroke-width="13.0" stroke-linejoin="round" stroke-linecap="round"/>
<path d="M311.8,221.4 L319.8,229.4 L329.4,242.2" fill="none" stroke="#97b6e1" stroke-width="5.0" stroke-linejoin="round" stroke-linecap="round"/>
<path d="M311.0,181.0 L316.6,186.1 L324.6,186.1 L331.0,192.5 L340.6,194.9 L342.2,205.4" fill="none" stroke="#97b6e1" stroke-width="20.0" stroke-linejoin="round" stroke-linecap="round"/>
<path d="M342.2,205.4 L348.6,221.4 L355.1,235.8 L358.3,240.6 L363.1,250.2" fill="none" stroke="#97b6e1" stroke-width="13.0" stroke-linejoin="round" stroke-linecap="round"/>
<path d="M363.1,250.2 L374.3,263.1 L383.9,269.5 L391.9,272.7 L394.2,284.0" fill="none" stroke="#97b6e1" stroke-width="8.0" stroke-linejoin="round" stroke-linecap="round"/>
<path d="M394.2,284.0 L405.4,290.5 L413.4,296.9 L419.9,306.5 L415.0,311.3 L416.7,319.3" fill="none" stroke="#97b6e1" stroke-width="12.0" stroke-linejoin="round" stroke-linecap="round"/>
<path d="M416.7,319.3 L427.9,324.1 L440.7,332.1 L445.5,340.2" fill="none" stroke="#97b6e1" stroke-width="15.0" stroke-linejoin="round" stroke-linecap="round"/>
<path d="M445.5,340.2 L452.5,349.8 L460.5,359.4 L473.0,372.2" fill="none" stroke="#97b6e1" stroke-width="20.0" stroke-linejoin="round" stroke-linecap="round"/>
<path d="M473.0,372.2 L485.6,383.4 L488.1,390.0" fill="none" stroke="#97b6e1" stroke-width="9.0" stroke-linejoin="round" stroke-linecap="round"/>
<path d="M488.1,390.0 L491.3,399.6 L495.0,405.0" fill="none" stroke="#97b6e1" stroke-width="24.0" stroke-linejoin="round" stroke-linecap="round"/>
<path d="M495.0,405.0 L497.7,410.8 L494.5,422.1" fill="none" stroke="#97b6e1" stroke-width="12.0" stroke-linejoin="round" stroke-linecap="round"/>
<path d="M494.5,422.1 L495.0,430.0" fill="none" stroke="#97b6e1" stroke-width="10.0" stroke-linejoin="round" stroke-linecap="round"/>
<path d="M492.9,442.9 L502.5,455.7 L515.4,462.1 L526.6,471.8 L533.0,478.2 L549.0,483.0 L561.8,485.4 L571.5,492.6 L584.3,500.6 L600.3,507.0 L613.1,513.4 L626.0,515.1 L634.0,521.5 L646.8,526.3 L662.0,529.5" fill="none" stroke="#97b6e1" stroke-width="4.0" stroke-linejoin="round" stroke-linecap="round"/>
<path d="M640.0,255.0 L665.0,255.0 L665.0,342.0 L658.0,342.0 L654.0,360.0 L652.5,380.0 L653.0,400.0 L657.0,417.0 L665.0,430.0 L665.0,436.0 L640.0,436.0Z" fill="#97b6e1"/>
<path d="M250.0,128.0 L251.0,140.0 L254.0,150.0 L258.5,157.3 L259.7,162.1 L264.5,171.7 L270.1,182.9 L273.3,194.1 L279.7,205.4 L283.7,215.0 L287.7,226.2 L294.1,232.6 L303.7,240.6 L313.4,248.6 L320.6,258.3 L322.5,266.0 L321.5,272.5 L314.0,272.0 L305.0,269.0 L296.4,264.8 L299.0,269.0 L306.0,277.6 L318.9,290.5 L331.7,298.5 L336.0,297.0 L338.1,292.1 L340.0,298.0 L342.9,300.1 L354.1,308.1 L360.5,317.7 L362.1,327.3 L360.0,334.0 L357.3,338.6 L362.0,344.0 L368.6,349.8 L379.8,356.2 L392.6,365.8 L399.0,372.2 L403.8,380.2 L408.0,378.5 L411.8,375.4 L414.3,367.4 L412.0,363.0 L408.6,361.0 L406.0,356.0 L405.4,353.0 L400.0,352.0 L395.8,353.0 L391.0,349.8 L389.0,345.0 L387.8,340.2 L383.0,327.3 L376.6,312.9 L370.2,300.1 L360.5,285.7 L350.9,272.8 L346.1,260.0 L342.2,256.7 L329.4,242.2 L319.8,229.4 L311.8,221.4 L310.2,210.2 L305.4,194.1 L305.4,183.0 L307.0,179.7 L311.0,181.0 L316.6,186.1 L324.6,186.1 L331.0,192.5 L340.6,194.9 L342.2,205.4 L348.6,221.4 L355.1,235.8 L358.3,240.6 L363.1,250.2 L374.3,263.1 L383.9,269.5 L391.9,272.7 L394.2,284.0 L405.4,290.5 L413.4,296.9 L419.9,306.5 L415.0,311.3 L416.7,319.3 L427.9,324.1 L440.7,332.1 L445.5,340.2 L452.5,349.8 L460.5,359.4 L473.0,372.2 L485.6,383.4 L488.1,390.0 L491.3,399.6 L497.7,410.8 L494.5,422.1 L495.3,427.0 L491.0,428.5 L495.0,431.5 L488.1,433.3 L492.9,442.9 L502.5,455.7 L515.4,462.1 L526.6,471.8 L533.0,478.2 L549.0,483.0 L561.8,485.4 L571.5,492.6 L584.3,500.6 L600.3,507.0 L613.1,513.4 L626.0,515.1 L634.0,521.5 L646.8,526.3 L662.0,529.5 L672.0,531.0 L672.0,432.4 L662.2,432.4 L654.7,417.6 L647.8,403.8 L644.8,388.0 L645.2,368.3 L645.8,348.6 L648.8,328.9 L657.6,315.1 L656.6,309.2 L650.7,289.4 L654.7,275.6 L662.2,262.8 L672.0,262.0 L672.0,128.0Z" fill="#d2b48c" stroke="#000" stroke-width="2.4" stroke-linejoin="round"/>
<path d="M333.0,233.0 L336.0,233.5 L340.5,242.0 L341.0,247.0 L338.0,246.0 L333.5,238.0Z" fill="#d2b48c" stroke="#000" stroke-width="1.6" stroke-linejoin="round"/>
<path d="M353.5,243.0 L357.0,240.5 L359.0,245.0 L356.5,250.0 L353.5,248.0Z" fill="#d2b48c" stroke="#000" stroke-width="1.6" stroke-linejoin="round"/>
<path d="M297.0,261.5 L299.5,261.5 L299.5,266.0 L297.5,266.0Z" fill="#d2b48c" stroke="#000" stroke-width="1.6" stroke-linejoin="round"/>
<path d="M662.2,262.8 L657.6,264.8 L658.6,268.7 L652.7,270.7 L654.7,274.7 L649.7,276.6 L652.7,279.6 L645.8,282.5 L649.7,286.5 L650.7,292.4 L652.7,301.3 L654.7,309.2 L657.6,313.5 L658.0,309.2 L655.7,299.3 L655.1,289.4 L657.0,279.6 L662.2,271.7Z" fill="#1a1f24" stroke="#000" stroke-width="1" stroke-linejoin="round"/>
<path d="M652.7,324.0 L646.8,325.9 L644.8,330.9 L647.8,336.8 L644.8,344.7 L643.8,352.6 L645.8,360.5 L647.8,348.6 L649.7,336.8 L653.7,326.9Z" fill="#1a1f24" stroke="#000" stroke-width="1" stroke-linejoin="round"/>
<path d="M645.2,386.1 L646.8,399.9 L650.7,409.8 L656.6,413.7 L652.7,405.8 L648.8,397.9 L646.8,388.1Z" fill="#1a1f24" stroke="#000" stroke-width="1" stroke-linejoin="round"/>
<path d="M282.5,142.5 L285.0,142.0 L291.0,148.0 L290.0,150.0 L287.5,149.5Z" fill="#b0b4bb"/>
<circle cx="291.5" cy="262.0" r="0.9" fill="#000"/>
<circle cx="235.5" cy="245.5" r="1.4" fill="#000"/>
<circle cx="236.5" cy="248.0" r="1.2" fill="#000"/>
<circle cx="213.0" cy="147.4" r="1.6" fill="#000"/>
<circle cx="222.5" cy="142.0" r="0.8" fill="#000"/>
<circle cx="469.5" cy="405.5" r="1.3" fill="#000"/>
<circle cx="472.0" cy="408.5" r="1.5" fill="#000"/>
<circle cx="475.0" cy="411.5" r="1.2" fill="#000"/>
<circle cx="477.5" cy="414.0" r="1.0" fill="#000"/>
<circle cx="380.8" cy="469.2" r="1.6" fill="#000"/>
<circle cx="385.8" cy="455.2" r="0.9" fill="#000"/>
<circle cx="308.1" cy="476.7" r="1.0" fill="#000"/>
<circle cx="418.3" cy="641.0" r="0.7" fill="#000"/>
<path d="M308.6,160.5 L298.9,173.3 L305.4,179.7" fill="none" stroke="#97b6e1" stroke-width="1.5" stroke-linejoin="round"/>
<path d="M313.4,159.7 L326.2,155.7 L342.2,150.8 L348.6,146.0 L353.4,145.2 L374.3,151.6 L390.3,149.2 L400.0,150.0 L411.2,156.5 L422.4,161.3 L430.4,157.3 L440.0,146.0 L438.4,140.4" fill="none" stroke="#97b6e1" stroke-width="1.5" stroke-linejoin="round"/>
<path d="M462.4,137.2 L456.8,154.0 L464.0,164.5 L468.9,177.3" fill="none" stroke="#97b6e1" stroke-width="1.5" stroke-linejoin="round"/>
<path d="M569.0,141.2 L577.9,149.2 L591.5,155.7 L601.9,151.6 L603.5,144.4 L613.1,139.9 L626.0,149.2 L637.2,158.9 L648.4,170.1 L662.0,190.9" fill="none" stroke="#97b6e1" stroke-width="1.5" stroke-linejoin="round"/>
<path d="M468.9,177.3 L474.5,184.5 L480.1,190.9 L492.9,202.9 L502.5,208.6 L507.3,218.2 L510.5,229.4 L520.2,238.2 L529.8,242.2 L538.6,246.2 L544.2,240.6 L547.4,231.0 L555.4,226.2 L563.4,227.8 L571.5,227.8 L579.5,235.8 L587.5,242.2 L593.9,253.4 L597.1,263.1 L605.1,271.1 L611.5,277.5 L613.3,289.4 L619.2,303.3 L638.9,311.1 L656.6,315.1" fill="none" stroke="#97b6e1" stroke-width="1.5" stroke-linejoin="round"/>
<path d="M494.5,406.0 L507.3,403.6 L517.0,415.7 L531.4,419.7 L539.4,431.7 L546.6,434.9 L546.0,437.5 L536.2,437.3" fill="none" stroke="#97b6e1" stroke-width="1.5" stroke-linejoin="round"/>
<path d="M595.5,397.2 L608.3,406.0 L616.4,406.0 L632.4,399.6 L645.2,394.8" fill="none" stroke="#97b6e1" stroke-width="1.5" stroke-linejoin="round"/>
<path d="M312.6,136.0 L311.0,143.0 L314.5,148.0 L312.0,153.0 L313.0,158.0 L308.6,160.0" fill="none" stroke="#000" stroke-width="1.9"/>
<path d="M421.6,136.0 L421.6,192.5" fill="none" stroke="#000" stroke-width="1.9"/>
<path d="M541.0,136.0 L541.0,177.3 L468.9,177.3" fill="none" stroke="#000" stroke-width="1.9"/>
<path d="M261.3,164.1 L308.6,159.7" fill="none" stroke="#000" stroke-width="1.9" stroke-dasharray="7.2,3.1"/>
<path d="M307.0,166.1 L382.3,192.5 L438.4,192.5 L438.4,182.3 L473.7,182.3" fill="none" stroke="#000" stroke-width="1.9" stroke-dasharray="7.2,3.1"/>
<path d="M468.9,177.3 L474.5,184.5 L480.1,190.9 L492.9,202.9 L502.5,208.6 L507.3,218.2 L510.5,229.4 L520.2,238.2 L529.8,242.2 L538.6,246.2 L544.2,240.6 L547.4,231.0 L555.4,226.2 L563.4,227.8 L571.5,227.8 L579.5,235.8 L587.5,242.2 L593.9,253.4 L597.1,263.1 L605.1,271.1 L611.5,277.5 L613.3,289.4 L619.2,303.3 L638.9,311.1 L656.6,315.1" fill="none" stroke="#000" stroke-width="1.9" stroke-dasharray="7.2,3.1"/>
</g>
<g clip-path="url(#cl)">
<path d="M138.7,155.2 L148.0,145.0 L156.0,140.0 L162.0,138.3" fill="none" stroke="#fff" stroke-width="13" stroke-linejoin="round"/>
<path d="M226.7,153.0 L248.5,145.6 L257.5,146.8" fill="none" stroke="#fff" stroke-width="13" stroke-linejoin="round"/>
<circle cx="256.5" cy="146.8" r="6.3" fill="#fff"/>
<circle cx="182.5" cy="489.0" r="5.8" fill="#1f77b4" stroke="#000" stroke-width="1.4"/>
<polygon points="414.5,608.5 419.5,611.4 419.5,617.2 414.5,620.1 409.5,617.2 409.5,611.4" fill="#4090c7" stroke="#000" stroke-width="1.4" stroke-linejoin="miter"/>
<polygon points="395.0,402.5 400.8,406.7 398.6,413.5 391.4,413.5 389.2,406.7" fill="#68abda" stroke="#000" stroke-width="1.4" stroke-linejoin="miter"/>
<circle cx="143.5" cy="182.1" r="5.8" fill="#94c8ec" stroke="#000" stroke-width="1.4"/>
<polygon points="481.7,421.4 486.7,424.3 486.7,430.1 481.7,433.0 476.7,430.1 476.7,424.3" fill="#c7e8ff" stroke="#000" stroke-width="1.4" stroke-linejoin="miter"/>
<polygon points="562.9,505.8 568.7,510.0 566.5,516.8 559.3,516.8 557.1,510.0" fill="#ff7f0e" stroke="#000" stroke-width="1.4" stroke-linejoin="miter"/>
<circle cx="139.2" cy="615.3" r="5.8" fill="#ff983c" stroke="#000" stroke-width="1.4"/>
<polygon points="229.3,238.4 234.3,241.3 234.3,247.1 229.3,250.0 224.3,247.1 224.3,241.3" fill="#ffb06a" stroke="#000" stroke-width="1.4" stroke-linejoin="miter"/>
<polygon points="133.8,487.8 139.6,492.0 137.4,498.8 130.2,498.8 128.0,492.0" fill="#ffc999" stroke="#000" stroke-width="1.4" stroke-linejoin="miter"/>
<circle cx="293.0" cy="564.6" r="5.8" fill="#ffe1c7" stroke="#000" stroke-width="1.4"/>
<polygon points="412.3,521.7 417.3,524.6 417.3,530.4 412.3,533.3 407.3,530.4 407.3,524.6" fill="#2ca02c" stroke="#000" stroke-width="1.4" stroke-linejoin="miter"/>
<circle cx="143.5" cy="434.3" r="5.8" fill="#6dd06d" stroke="#000" stroke-width="1.4"/>
<polygon points="197.2,280.9 202.2,283.8 202.2,289.6 197.2,292.5 192.2,289.6 192.2,283.8" fill="#97e797" stroke="#000" stroke-width="1.4" stroke-linejoin="miter"/>
<polygon points="391.7,597.3 397.5,601.5 395.3,608.3 388.1,608.3 385.9,601.5" fill="#c7ffc7" stroke="#000" stroke-width="1.4" stroke-linejoin="miter"/>
<circle cx="98.4" cy="648.3" r="5.8" fill="#d62728" stroke="#000" stroke-width="1.4"/>
<polygon points="295.4,580.7 300.4,583.6 300.4,589.4 295.4,592.3 290.4,589.4 290.4,583.6" fill="#e04a4b" stroke="#000" stroke-width="1.4" stroke-linejoin="miter"/>
<polygon points="299.1,550.7 304.9,554.9 302.7,561.7 295.5,561.7 293.3,554.9" fill="#eb7172" stroke="#000" stroke-width="1.4" stroke-linejoin="miter"/>
<circle cx="194.3" cy="609.3" r="5.8" fill="#f59a9b" stroke="#000" stroke-width="1.4"/>
<polygon points="103.6,336.7 108.6,339.6 108.6,345.4 103.6,348.3 98.6,345.4 98.6,339.6" fill="#ffc7c7" stroke="#000" stroke-width="1.4" stroke-linejoin="miter"/>
<polygon points="211.9,500.8 217.7,505.0 215.5,511.8 208.3,511.8 206.1,505.0" fill="#9467bd" stroke="#000" stroke-width="1.4" stroke-linejoin="miter"/>
<circle cx="129.5" cy="236.2" r="5.8" fill="#a77cce" stroke="#000" stroke-width="1.4"/>
<polygon points="93.6,296.6 98.6,299.5 98.6,305.3 93.6,308.2 88.6,305.3 88.6,299.5" fill="#ba93de" stroke="#000" stroke-width="1.4" stroke-linejoin="miter"/>
<polygon points="652.6,659.8 658.4,664.0 656.2,670.8 649.0,670.8 646.8,664.0" fill="#cfacee" stroke="#000" stroke-width="1.4" stroke-linejoin="miter"/>
<circle cx="471.1" cy="621.4" r="5.8" fill="#e4c7ff" stroke="#000" stroke-width="1.4"/>
<polygon points="243.3,616.7 248.3,619.6 248.3,625.4 243.3,628.3 238.3,625.4 238.3,619.6" fill="#8c564b" stroke="#000" stroke-width="1.4" stroke-linejoin="miter"/>
<polygon points="264.8,298.9 270.6,303.1 268.4,309.9 261.2,309.9 259.0,303.1" fill="#a97065" stroke="#000" stroke-width="1.4" stroke-linejoin="miter"/>
<circle cx="634.2" cy="653.5" r="5.8" fill="#c68d82" stroke="#000" stroke-width="1.4"/>
<polygon points="118.4,642.5 123.4,645.4 123.4,651.2 118.4,654.1 113.4,651.2 113.4,645.4" fill="#e2ada3" stroke="#000" stroke-width="1.4" stroke-linejoin="miter"/>
<polygon points="185.8,326.0 191.6,330.2 189.4,337.0 182.2,337.0 180.0,330.2" fill="#ffd0c7" stroke="#000" stroke-width="1.4" stroke-linejoin="miter"/>
<circle cx="536.4" cy="679.3" r="5.8" fill="#e377c2" stroke="#000" stroke-width="1.4"/>
<polygon points="544.4,524.5 549.4,527.4 549.4,533.2 544.4,536.1 539.4,533.2 539.4,527.4" fill="#ea8acd" stroke="#000" stroke-width="1.4" stroke-linejoin="miter"/>
<polygon points="134.7,651.5 140.5,655.7 138.3,662.5 131.1,662.5 128.9,655.7" fill="#f19dd7" stroke="#000" stroke-width="1.4" stroke-linejoin="miter"/>
<circle cx="125.7" cy="164.5" r="5.8" fill="#f8b2e2" stroke="#000" stroke-width="1.4"/>
<polygon points="214.3,334.3 219.3,337.2 219.3,343.0 214.3,345.9 209.3,343.0 209.3,337.2" fill="#ffc7ee" stroke="#000" stroke-width="1.4" stroke-linejoin="miter"/>
<polygon points="410.8,473.7 416.6,477.9 414.4,484.7 407.2,484.7 405.0,477.9" fill="#7f7f7f" stroke="#000" stroke-width="1.4" stroke-linejoin="miter"/>
<circle cx="406.7" cy="410.2" r="5.8" fill="#9f9696" stroke="#000" stroke-width="1.4"/>
<polygon points="88.4,465.2 93.4,468.1 93.4,473.9 88.4,476.8 83.4,473.9 83.4,468.1" fill="#bfaaaa" stroke="#000" stroke-width="1.4" stroke-linejoin="miter"/>
<polygon points="311.9,527.9 317.7,532.1 315.5,538.9 308.3,538.9 306.1,532.1" fill="#dfbaba" stroke="#000" stroke-width="1.4" stroke-linejoin="miter"/>
<circle cx="299.6" cy="403.2" r="5.8" fill="#ffc7c7" stroke="#000" stroke-width="1.4"/>
<polygon points="479.5,610.6 484.5,613.5 484.5,619.3 479.5,622.2 474.5,619.3 474.5,613.5" fill="#bcbd22" stroke="#000" stroke-width="1.4" stroke-linejoin="miter"/>
<polygon points="162.0,127.0 150.7,149.6 173.3,149.6" fill="#ff7f0e" stroke="#000" stroke-width="2.0" stroke-linejoin="miter"/>
<polygon points="248.5,134.3 237.2,156.9 259.8,156.9" fill="#2ca02c" stroke="#000" stroke-width="2.0" stroke-linejoin="miter"/>
</g>
<rect x="84.5" y="137.0" width="578.0" height="551.5" fill="none" stroke="#000" stroke-width="1.1"/>
<path d="M84.5,688.5v9 M84.5,137.0v-9 M144.3,688.5v9 M144.3,137.0v-9 M204.1,688.5v9 M204.1,137.0v-9 M263.9,688.5v9 M263.9,137.0v-9 M323.7,688.5v9 M323.7,137.0v-9 M383.4,688.5v9 M383.4,137.0v-9 M443.2,688.5v9 M443.2,137.0v-9 M503.0,688.5v9 M503.0,137.0v-9 M562.8,688.5v9 M562.8,137.0v-9 M622.6,688.5v9 M622.6,137.0v-9 M84.5,668.9h-9 M662.5,668.9h9 M84.5,608.5h-9 M662.5,608.5h9 M84.5,547.4h-9 M662.5,547.4h9 M84.5,485.4h-9 M662.5,485.4h9 M84.5,422.3h-9 M662.5,422.3h9 M84.5,358.0h-9 M662.5,358.0h9 M84.5,292.1h-9 M662.5,292.1h9 M84.5,224.4h-9 M662.5,224.4h9 M84.5,154.6h-9 M662.5,154.6h9" stroke="#000" stroke-width="2.8" fill="none"/>
<path d="M104.4,688.5v3.6 M104.4,137.0v-3.6 M124.4,688.5v3.6 M124.4,137.0v-3.6 M164.2,688.5v3.6 M164.2,137.0v-3.6 M184.2,688.5v3.6 M184.2,137.0v-3.6 M224.0,688.5v3.6 M224.0,137.0v-3.6 M243.9,688.5v3.6 M243.9,137.0v-3.6 M283.8,688.5v3.6 M283.8,137.0v-3.6 M303.7,688.5v3.6 M303.7,137.0v-3.6 M343.6,688.5v3.6 M343.6,137.0v-3.6 M363.5,688.5v3.6 M363.5,137.0v-3.6 M403.4,688.5v3.6 M403.4,137.0v-3.6 M423.3,688.5v3.6 M423.3,137.0v-3.6 M463.2,688.5v3.6 M463.2,137.0v-3.6 M483.1,688.5v3.6 M483.1,137.0v-3.6 M523.0,688.5v3.6 M523.0,137.0v-3.6 M542.9,688.5v3.6 M542.9,137.0v-3.6 M582.8,688.5v3.6 M582.8,137.0v-3.6 M602.7,688.5v3.6 M602.7,137.0v-3.6 M642.5,688.5v3.6 M642.5,137.0v-3.6 M662.5,688.5v3.6 M662.5,137.0v-3.6 M84.5,688.9h-3.6 M662.5,688.9h3.6 M84.5,648.8h-3.6 M662.5,648.8h3.6 M84.5,628.7h-3.6 M662.5,628.7h3.6 M84.5,588.2h-3.6 M662.5,588.2h3.6 M84.5,567.8h-3.6 M662.5,567.8h3.6 M84.5,526.8h-3.6 M662.5,526.8h3.6 M84.5,506.2h-3.6 M662.5,506.2h3.6 M84.5,464.5h-3.6 M662.5,464.5h3.6 M84.5,443.5h-3.6 M662.5,443.5h3.6 M84.5,401.0h-3.6 M662.5,401.0h3.6 M84.5,379.6h-3.6 M662.5,379.6h3.6 M84.5,336.2h-3.6 M662.5,336.2h3.6 M84.5,314.2h-3.6 M662.5,314.2h3.6 M84.5,269.7h-3.6 M662.5,269.7h3.6 M84.5,247.2h-3.6 M662.5,247.2h3.6 M84.5,201.4h-3.6 M662.5,201.4h3.6 M84.5,178.1h-3.6 M662.5,178.1h3.6" stroke="#000" stroke-width="1.3" fill="none"/>
<text x="47.02" y="720.80" font-size="23.30" textLength="71.53" lengthAdjust="spacingAndGlyphs">126°W</text>
<text x="106.81" y="720.80" font-size="23.30" textLength="71.53" lengthAdjust="spacingAndGlyphs">123°W</text>
<text x="166.60" y="720.80" font-size="23.30" textLength="71.53" lengthAdjust="spacingAndGlyphs">120°W</text>
<text x="226.34" y="720.80" font-size="23.30" textLength="71.60" lengthAdjust="spacingAndGlyphs">117°W</text>
<text x="286.13" y="720.80" font-size="23.30" textLength="71.60" lengthAdjust="spacingAndGlyphs">114°W</text>
<text x="345.87" y="720.80" font-size="23.30" textLength="71.67" lengthAdjust="spacingAndGlyphs">111°W</text>
<text x="405.76" y="720.80" font-size="23.30" textLength="71.53" lengthAdjust="spacingAndGlyphs">108°W</text>
<text x="465.55" y="720.80" font-size="23.30" textLength="71.53" lengthAdjust="spacingAndGlyphs">105°W</text>
<text x="525.34" y="720.80" font-size="23.30" textLength="71.53" lengthAdjust="spacingAndGlyphs">102°W</text>
<text x="592.65" y="720.80" font-size="23.30" textLength="58.01" lengthAdjust="spacingAndGlyphs">99°W</text>
<text x="26.86" y="677.11" font-size="23.30" textLength="42.55" lengthAdjust="spacingAndGlyphs">9°N</text>
<text x="12.07" y="616.69" font-size="23.30" textLength="57.40" lengthAdjust="spacingAndGlyphs">12°N</text>
<text x="12.07" y="555.58" font-size="23.30" textLength="57.40" lengthAdjust="spacingAndGlyphs">15°N</text>
<text x="12.07" y="493.60" font-size="23.30" textLength="57.40" lengthAdjust="spacingAndGlyphs">18°N</text>
<text x="12.73" y="430.54" font-size="23.30" textLength="56.71" lengthAdjust="spacingAndGlyphs">21°N</text>
<text x="12.73" y="366.18" font-size="23.30" textLength="56.71" lengthAdjust="spacingAndGlyphs">24°N</text>
<text x="12.73" y="300.29" font-size="23.30" textLength="56.71" lengthAdjust="spacingAndGlyphs">27°N</text>
<text x="12.99" y="232.60" font-size="23.30" textLength="56.44" lengthAdjust="spacingAndGlyphs">30°N</text>
<text x="12.99" y="162.80" font-size="23.30" textLength="56.44" lengthAdjust="spacingAndGlyphs">33°N</text>
<rect x="836.5" y="137.0" width="578.0" height="551.5" fill="#97b6e1"/>
<g clip-path="url(#dr)"><g filter="url(#fr)">
<rect x="776.5" y="77.0" width="700.0" height="680.0" fill="#737373"/>
<rect x="776.5" y="77.0" width="80.5" height="20.5" fill="#5b5b5b"/>
<rect x="856.5" y="77.0" width="20.5" height="20.5" fill="#434343"/>
<rect x="876.5" y="77.0" width="20.5" height="20.5" fill="#373737"/>
<rect x="896.5" y="77.0" width="160.5" height="20.5" fill="#121212"/>
<rect x="1056.5" y="77.0" width="420.5" height="20.5" fill="#8c8c8c"/>
<rect x="776.5" y="97.0" width="80.5" height="20.5" fill="#5b5b5b"/>
<rect x="856.5" y="97.0" width="20.5" height="20.5" fill="#434343"/>
<rect x="876.5" y="97.0" width="20.5" height="20.5" fill="#373737"/>
<rect x="896.5" y="97.0" width="160.5" height="20.5" fill="#121212"/>
<rect x="1056.5" y="97.0" width="420.5" height="20.5" fill="#8c8c8c"/>
<rect x="776.5" y="117.0" width="80.5" height="20.5" fill="#5b5b5b"/>
<rect x="856.5" y="117.0" width="20.5" height="20.5" fill="#434343"/>
<rect x="876.5" y="117.0" width="20.5" height="20.5" fill="#373737"/>
<rect x="896.5" y="117.0" width="160.5" height="20.5" fill="#121212"/>
<rect x="1056.5" y="117.0" width="420.5" height="20.5" fill="#8c8c8c"/>
<rect x="776.5" y="137.0" width="80.5" height="20.5" fill="#5b5b5b"/>
<rect x="856.5" y="137.0" width="20.5" height="20.5" fill="#434343"/>
<rect x="876.5" y="137.0" width="20.5" height="20.5" fill="#373737"/>
<rect x="896.5" y="137.0" width="160.5" height="20.5" fill="#121212"/>
<rect x="1056.5" y="137.0" width="420.5" height="20.5" fill="#8c8c8c"/>
<rect x="776.5" y="157.0" width="80.5" height="20.5" fill="#676767"/>
<rect x="856.5" y="157.0" width="20.5" height="20.5" fill="#373737"/>
<rect x="876.5" y="157.0" width="40.5" height="20.5" fill="#121212"/>
<rect x="916.5" y="157.0" width="40.5" height="20.5" fill="#373737"/>
<rect x="956.5" y="157.0" width="100.5" height="20.5" fill="#121212"/>
<rect x="1056.5" y="157.0" width="420.5" height="20.5" fill="#8c8c8c"/>
<rect x="776.5" y="177.0" width="80.5" height="20.5" fill="#808080"/>
<rect x="856.5" y="177.0" width="60.5" height="20.5" fill="#4f4f4f"/>
<rect x="916.5" y="177.0" width="20.5" height="20.5" fill="#5b5b5b"/>
<rect x="936.5" y="177.0" width="20.5" height="20.5" fill="#373737"/>
<rect x="956.5" y="177.0" width="100.5" height="20.5" fill="#121212"/>
<rect x="1056.5" y="177.0" width="420.5" height="20.5" fill="#8c8c8c"/>
<rect x="776.5" y="197.0" width="80.5" height="20.5" fill="#a4a4a4"/>
<rect x="856.5" y="197.0" width="40.5" height="20.5" fill="#989898"/>
<rect x="896.5" y="197.0" width="20.5" height="20.5" fill="#737373"/>
<rect x="916.5" y="197.0" width="20.5" height="20.5" fill="#676767"/>
<rect x="936.5" y="197.0" width="20.5" height="20.5" fill="#4f4f4f"/>
<rect x="956.5" y="197.0" width="20.5" height="20.5" fill="#373737"/>
<rect x="976.5" y="197.0" width="20.5" height="20.5" fill="#434343"/>
<rect x="996.5" y="197.0" width="60.5" height="20.5" fill="#121212"/>
<rect x="1056.5" y="197.0" width="420.5" height="20.5" fill="#8c8c8c"/>
<rect x="776.5" y="217.0" width="100.5" height="20.5" fill="#a4a4a4"/>
<rect x="876.5" y="217.0" width="20.5" height="20.5" fill="#989898"/>
<rect x="896.5" y="217.0" width="20.5" height="20.5" fill="#737373"/>
<rect x="916.5" y="217.0" width="20.5" height="20.5" fill="#989898"/>
<rect x="936.5" y="217.0" width="20.5" height="20.5" fill="#808080"/>
<rect x="956.5" y="217.0" width="40.5" height="20.5" fill="#4f4f4f"/>
<rect x="996.5" y="217.0" width="20.5" height="20.5" fill="#373737"/>
<rect x="1016.5" y="217.0" width="40.5" height="20.5" fill="#121212"/>
<rect x="1056.5" y="217.0" width="20.5" height="20.5" fill="#8c8c8c"/>
<rect x="1076.5" y="217.0" width="20.5" height="20.5" fill="#737373"/>
<rect x="1096.5" y="217.0" width="380.5" height="20.5" fill="#808080"/>
<rect x="776.5" y="237.0" width="100.5" height="20.5" fill="#b0b0b0"/>
<rect x="876.5" y="237.0" width="20.5" height="20.5" fill="#a4a4a4"/>
<rect x="896.5" y="237.0" width="20.5" height="20.5" fill="#989898"/>
<rect x="916.5" y="237.0" width="20.5" height="20.5" fill="#737373"/>
<rect x="936.5" y="237.0" width="20.5" height="20.5" fill="#808080"/>
<rect x="956.5" y="237.0" width="20.5" height="20.5" fill="#737373"/>
<rect x="976.5" y="237.0" width="20.5" height="20.5" fill="#5b5b5b"/>
<rect x="996.5" y="237.0" width="20.5" height="20.5" fill="#373737"/>
<rect x="1016.5" y="237.0" width="60.5" height="20.5" fill="#121212"/>
<rect x="1076.5" y="237.0" width="20.5" height="20.5" fill="#8c8c8c"/>
<rect x="1096.5" y="237.0" width="20.5" height="20.5" fill="#808080"/>
<rect x="1116.5" y="237.0" width="360.5" height="20.5" fill="#737373"/>
<rect x="776.5" y="257.0" width="100.5" height="20.5" fill="#cecece"/>
<rect x="876.5" y="257.0" width="20.5" height="20.5" fill="#b0b0b0"/>
<rect x="896.5" y="257.0" width="20.5" height="20.5" fill="#989898"/>
<rect x="916.5" y="257.0" width="20.5" height="20.5" fill="#676767"/>
<rect x="936.5" y="257.0" width="20.5" height="20.5" fill="#737373"/>
<rect x="956.5" y="257.0" width="20.5" height="20.5" fill="#676767"/>
<rect x="976.5" y="257.0" width="40.5" height="20.5" fill="#4f4f4f"/>
<rect x="1016.5" y="257.0" width="20.5" height="20.5" fill="#373737"/>
<rect x="1036.5" y="257.0" width="40.5" height="20.5" fill="#121212"/>
<rect x="1076.5" y="257.0" width="20.5" height="20.5" fill="#5b5b5b"/>
<rect x="1096.5" y="257.0" width="20.5" height="20.5" fill="#676767"/>
<rect x="1116.5" y="257.0" width="360.5" height="20.5" fill="#5b5b5b"/>
<rect x="776.5" y="277.0" width="120.5" height="20.5" fill="#cecece"/>
<rect x="896.5" y="277.0" width="20.5" height="20.5" fill="#b0b0b0"/>
<rect x="916.5" y="277.0" width="20.5" height="20.5" fill="#989898"/>
<rect x="936.5" y="277.0" width="20.5" height="20.5" fill="#808080"/>
<rect x="956.5" y="277.0" width="20.5" height="20.5" fill="#676767"/>
<rect x="976.5" y="277.0" width="20.5" height="20.5" fill="#4f4f4f"/>
<rect x="996.5" y="277.0" width="20.5" height="20.5" fill="#434343"/>
<rect x="1016.5" y="277.0" width="20.5" height="20.5" fill="#4f4f4f"/>
<rect x="1036.5" y="277.0" width="20.5" height="20.5" fill="#434343"/>
<rect x="1056.5" y="277.0" width="40.5" height="20.5" fill="#121212"/>
<rect x="1096.5" y="277.0" width="20.5" height="20.5" fill="#5b5b5b"/>
<rect x="1116.5" y="277.0" width="360.5" height="20.5" fill="#676767"/>
<rect x="776.5" y="297.0" width="140.5" height="20.5" fill="#cecece"/>
<rect x="916.5" y="297.0" width="20.5" height="20.5" fill="#b0b0b0"/>
<rect x="936.5" y="297.0" width="20.5" height="20.5" fill="#a4a4a4"/>
<rect x="956.5" y="297.0" width="20.5" height="20.5" fill="#989898"/>
<rect x="976.5" y="297.0" width="20.5" height="20.5" fill="#737373"/>
<rect x="996.5" y="297.0" width="20.5" height="20.5" fill="#5b5b5b"/>
<rect x="1016.5" y="297.0" width="20.5" height="20.5" fill="#676767"/>
<rect x="1036.5" y="297.0" width="20.5" height="20.5" fill="#4f4f4f"/>
<rect x="1056.5" y="297.0" width="20.5" height="20.5" fill="#373737"/>
<rect x="1076.5" y="297.0" width="40.5" height="20.5" fill="#121212"/>
<rect x="1116.5" y="297.0" width="20.5" height="20.5" fill="#5b5b5b"/>
<rect x="1136.5" y="297.0" width="20.5" height="20.5" fill="#808080"/>
<rect x="1156.5" y="297.0" width="320.5" height="20.5" fill="#676767"/>
<rect x="776.5" y="317.0" width="160.5" height="20.5" fill="#cecece"/>
<rect x="936.5" y="317.0" width="40.5" height="20.5" fill="#b0b0b0"/>
<rect x="976.5" y="317.0" width="20.5" height="20.5" fill="#989898"/>
<rect x="996.5" y="317.0" width="20.5" height="20.5" fill="#5b5b5b"/>
<rect x="1016.5" y="317.0" width="20.5" height="20.5" fill="#989898"/>
<rect x="1036.5" y="317.0" width="20.5" height="20.5" fill="#737373"/>
<rect x="1056.5" y="317.0" width="20.5" height="20.5" fill="#4f4f4f"/>
<rect x="1076.5" y="317.0" width="20.5" height="20.5" fill="#373737"/>
<rect x="1096.5" y="317.0" width="20.5" height="20.5" fill="#121212"/>
<rect x="1116.5" y="317.0" width="20.5" height="20.5" fill="#4f4f4f"/>
<rect x="1136.5" y="317.0" width="240.5" height="20.5" fill="#676767"/>
<rect x="1376.5" y="317.0" width="100.5" height="20.5" fill="#cecece"/>
<rect x="776.5" y="337.0" width="200.5" height="20.5" fill="#cecece"/>
<rect x="976.5" y="337.0" width="20.5" height="20.5" fill="#8c8c8c"/>
<rect x="996.5" y="337.0" width="20.5" height="20.5" fill="#989898"/>
<rect x="1016.5" y="337.0" width="20.5" height="20.5" fill="#a4a4a4"/>
<rect x="1036.5" y="337.0" width="20.5" height="20.5" fill="#737373"/>
<rect x="1056.5" y="337.0" width="20.5" height="20.5" fill="#676767"/>
<rect x="1076.5" y="337.0" width="20.5" height="20.5" fill="#5b5b5b"/>
<rect x="1096.5" y="337.0" width="20.5" height="20.5" fill="#373737"/>
<rect x="1116.5" y="337.0" width="20.5" height="20.5" fill="#121212"/>
<rect x="1136.5" y="337.0" width="20.5" height="20.5" fill="#4f4f4f"/>
<rect x="1156.5" y="337.0" width="20.5" height="20.5" fill="#676767"/>
<rect x="1176.5" y="337.0" width="20.5" height="20.5" fill="#8c8c8c"/>
<rect x="1196.5" y="337.0" width="20.5" height="20.5" fill="#737373"/>
<rect x="1216.5" y="337.0" width="160.5" height="20.5" fill="#676767"/>
<rect x="1376.5" y="337.0" width="100.5" height="20.5" fill="#cecece"/>
<rect x="776.5" y="357.0" width="180.5" height="20.5" fill="#cecece"/>
<rect x="956.5" y="357.0" width="20.5" height="20.5" fill="#b0b0b0"/>
<rect x="976.5" y="357.0" width="60.5" height="20.5" fill="#808080"/>
<rect x="1036.5" y="357.0" width="20.5" height="20.5" fill="#676767"/>
<rect x="1056.5" y="357.0" width="20.5" height="20.5" fill="#737373"/>
<rect x="1076.5" y="357.0" width="20.5" height="20.5" fill="#5b5b5b"/>
<rect x="1096.5" y="357.0" width="20.5" height="20.5" fill="#4f4f4f"/>
<rect x="1116.5" y="357.0" width="20.5" height="20.5" fill="#373737"/>
<rect x="1136.5" y="357.0" width="20.5" height="20.5" fill="#4f4f4f"/>
<rect x="1156.5" y="357.0" width="20.5" height="20.5" fill="#676767"/>
<rect x="1176.5" y="357.0" width="20.5" height="20.5" fill="#989898"/>
<rect x="1196.5" y="357.0" width="20.5" height="20.5" fill="#737373"/>
<rect x="1216.5" y="357.0" width="160.5" height="20.5" fill="#676767"/>
<rect x="1376.5" y="357.0" width="100.5" height="20.5" fill="#cecece"/>
<rect x="776.5" y="377.0" width="140.5" height="20.5" fill="#cecece"/>
<rect x="916.5" y="377.0" width="20.5" height="20.5" fill="#b0b0b0"/>
<rect x="936.5" y="377.0" width="20.5" height="20.5" fill="#a4a4a4"/>
<rect x="956.5" y="377.0" width="20.5" height="20.5" fill="#989898"/>
<rect x="976.5" y="377.0" width="60.5" height="20.5" fill="#808080"/>
<rect x="1036.5" y="377.0" width="20.5" height="20.5" fill="#5b5b5b"/>
<rect x="1056.5" y="377.0" width="20.5" height="20.5" fill="#737373"/>
<rect x="1076.5" y="377.0" width="20.5" height="20.5" fill="#989898"/>
<rect x="1096.5" y="377.0" width="20.5" height="20.5" fill="#cecece"/>
<rect x="1116.5" y="377.0" width="20.5" height="20.5" fill="#808080"/>
<rect x="1136.5" y="377.0" width="40.5" height="20.5" fill="#676767"/>
<rect x="1176.5" y="377.0" width="20.5" height="20.5" fill="#737373"/>
<rect x="1196.5" y="377.0" width="20.5" height="20.5" fill="#5b5b5b"/>
<rect x="1216.5" y="377.0" width="160.5" height="20.5" fill="#676767"/>
<rect x="1376.5" y="377.0" width="100.5" height="20.5" fill="#cecece"/>
<rect x="776.5" y="397.0" width="140.5" height="20.5" fill="#cecece"/>
<rect x="916.5" y="397.0" width="60.5" height="20.5" fill="#a4a4a4"/>
<rect x="976.5" y="397.0" width="20.5" height="20.5" fill="#b0b0b0"/>
<rect x="996.5" y="397.0" width="20.5" height="20.5" fill="#cecece"/>
<rect x="1016.5" y="397.0" width="20.5" height="20.5" fill="#a4a4a4"/>
<rect x="1036.5" y="397.0" width="40.5" height="20.5" fill="#8c8c8c"/>
<rect x="1076.5" y="397.0" width="20.5" height="20.5" fill="#cecece"/>
<rect x="1096.5" y="397.0" width="20.5" height="20.5" fill="#e1e1e1"/>
<rect x="1116.5" y="397.0" width="20.5" height="20.5" fill="#cecece"/>
<rect x="1136.5" y="397.0" width="20.5" height="20.5" fill="#8c8c8c"/>
<rect x="1156.5" y="397.0" width="20.5" height="20.5" fill="#737373"/>
<rect x="1176.5" y="397.0" width="40.5" height="20.5" fill="#4f4f4f"/>
<rect x="1216.5" y="397.0" width="160.5" height="20.5" fill="#5b5b5b"/>
<rect x="1376.5" y="397.0" width="100.5" height="20.5" fill="#cecece"/>
<rect x="776.5" y="417.0" width="160.5" height="20.5" fill="#cecece"/>
<rect x="936.5" y="417.0" width="20.5" height="20.5" fill="#b0b0b0"/>
<rect x="956.5" y="417.0" width="60.5" height="20.5" fill="#cecece"/>
<rect x="1016.5" y="417.0" width="40.5" height="20.5" fill="#b0b0b0"/>
<rect x="1056.5" y="417.0" width="40.5" height="20.5" fill="#a4a4a4"/>
<rect x="1096.5" y="417.0" width="20.5" height="20.5" fill="#b0b0b0"/>
<rect x="1116.5" y="417.0" width="40.5" height="20.5" fill="#8c8c8c"/>
<rect x="1156.5" y="417.0" width="40.5" height="20.5" fill="#737373"/>
<rect x="1196.5" y="417.0" width="180.5" height="20.5" fill="#5b5b5b"/>
<rect x="1376.5" y="417.0" width="100.5" height="20.5" fill="#cecece"/>
<rect x="776.5" y="437.0" width="300.5" height="20.5" fill="#cecece"/>
<rect x="1076.5" y="437.0" width="20.5" height="20.5" fill="#a4a4a4"/>
<rect x="1096.5" y="437.0" width="20.5" height="20.5" fill="#989898"/>
<rect x="1116.5" y="437.0" width="40.5" height="20.5" fill="#808080"/>
<rect x="1156.5" y="437.0" width="20.5" height="20.5" fill="#8c8c8c"/>
<rect x="1176.5" y="437.0" width="20.5" height="20.5" fill="#808080"/>
<rect x="1196.5" y="437.0" width="20.5" height="20.5" fill="#676767"/>
<rect x="1216.5" y="437.0" width="260.5" height="20.5" fill="#5b5b5b"/>
<rect x="776.5" y="457.0" width="260.5" height="20.5" fill="#cecece"/>
<rect x="1036.5" y="457.0" width="20.5" height="20.5" fill="#b0b0b0"/>
<rect x="1056.5" y="457.0" width="20.5" height="20.5" fill="#cecece"/>
<rect x="1076.5" y="457.0" width="20.5" height="20.5" fill="#b0b0b0"/>
<rect x="1096.5" y="457.0" width="20.5" height="20.5" fill="#8c8c8c"/>
<rect x="1116.5" y="457.0" width="40.5" height="20.5" fill="#737373"/>
<rect x="1156.5" y="457.0" width="40.5" height="20.5" fill="#8c8c8c"/>
<rect x="1196.5" y="457.0" width="20.5" height="20.5" fill="#676767"/>
<rect x="1216.5" y="457.0" width="260.5" height="20.5" fill="#5b5b5b"/>
<rect x="776.5" y="477.0" width="160.5" height="20.5" fill="#cecece"/>
<rect x="936.5" y="477.0" width="20.5" height="20.5" fill="#b0b0b0"/>
<rect x="956.5" y="477.0" width="80.5" height="20.5" fill="#cecece"/>
<rect x="1036.5" y="477.0" width="20.5" height="20.5" fill="#b0b0b0"/>
<rect x="1056.5" y="477.0" width="20.5" height="20.5" fill="#cecece"/>
<rect x="1076.5" y="477.0" width="20.5" height="20.5" fill="#a4a4a4"/>
<rect x="1096.5" y="477.0" width="20.5" height="20.5" fill="#989898"/>
<rect x="1116.5" y="477.0" width="20.5" height="20.5" fill="#b0b0b0"/>
<rect x="1136.5" y="477.0" width="40.5" height="20.5" fill="#989898"/>
<rect x="1176.5" y="477.0" width="20.5" height="20.5" fill="#8c8c8c"/>
<rect x="1196.5" y="477.0" width="20.5" height="20.5" fill="#737373"/>
<rect x="1216.5" y="477.0" width="20.5" height="20.5" fill="#5b5b5b"/>
<rect x="1236.5" y="477.0" width="20.5" height="20.5" fill="#676767"/>
<rect x="1256.5" y="477.0" width="40.5" height="20.5" fill="#4f4f4f"/>
<rect x="1296.5" y="477.0" width="180.5" height="20.5" fill="#5b5b5b"/>
<rect x="776.5" y="497.0" width="180.5" height="20.5" fill="#cecece"/>
<rect x="956.5" y="497.0" width="20.5" height="20.5" fill="#b0b0b0"/>
<rect x="976.5" y="497.0" width="20.5" height="20.5" fill="#cecece"/>
<rect x="996.5" y="497.0" width="20.5" height="20.5" fill="#b0b0b0"/>
<rect x="1016.5" y="497.0" width="60.5" height="20.5" fill="#cecece"/>
<rect x="1076.5" y="497.0" width="20.5" height="20.5" fill="#a4a4a4"/>
<rect x="1096.5" y="497.0" width="20.5" height="20.5" fill="#989898"/>
<rect x="1116.5" y="497.0" width="20.5" height="20.5" fill="#b0b0b0"/>
<rect x="1136.5" y="497.0" width="20.5" height="20.5" fill="#a4a4a4"/>
<rect x="1156.5" y="497.0" width="20.5" height="20.5" fill="#989898"/>
<rect x="1176.5" y="497.0" width="20.5" height="20.5" fill="#8c8c8c"/>
<rect x="1196.5" y="497.0" width="20.5" height="20.5" fill="#808080"/>
<rect x="1216.5" y="497.0" width="40.5" height="20.5" fill="#737373"/>
<rect x="1256.5" y="497.0" width="60.5" height="20.5" fill="#676767"/>
<rect x="1316.5" y="497.0" width="40.5" height="20.5" fill="#4f4f4f"/>
<rect x="1356.5" y="497.0" width="120.5" height="20.5" fill="#434343"/>
<rect x="776.5" y="517.0" width="180.5" height="20.5" fill="#cecece"/>
<rect x="956.5" y="517.0" width="20.5" height="20.5" fill="#a4a4a4"/>
<rect x="976.5" y="517.0" width="20.5" height="20.5" fill="#b0b0b0"/>
<rect x="996.5" y="517.0" width="20.5" height="20.5" fill="#a4a4a4"/>
<rect x="1016.5" y="517.0" width="60.5" height="20.5" fill="#b0b0b0"/>
<rect x="1076.5" y="517.0" width="20.5" height="20.5" fill="#a4a4a4"/>
<rect x="1096.5" y="517.0" width="20.5" height="20.5" fill="#989898"/>
<rect x="1116.5" y="517.0" width="20.5" height="20.5" fill="#a4a4a4"/>
<rect x="1136.5" y="517.0" width="40.5" height="20.5" fill="#989898"/>
<rect x="1176.5" y="517.0" width="40.5" height="20.5" fill="#8c8c8c"/>
<rect x="1216.5" y="517.0" width="20.5" height="20.5" fill="#808080"/>
<rect x="1236.5" y="517.0" width="20.5" height="20.5" fill="#8c8c8c"/>
<rect x="1256.5" y="517.0" width="60.5" height="20.5" fill="#808080"/>
<rect x="1316.5" y="517.0" width="20.5" height="20.5" fill="#676767"/>
<rect x="1336.5" y="517.0" width="20.5" height="20.5" fill="#434343"/>
<rect x="1356.5" y="517.0" width="20.5" height="20.5" fill="#373737"/>
<rect x="1376.5" y="517.0" width="100.5" height="20.5" fill="#4f4f4f"/>
<rect x="776.5" y="537.0" width="80.5" height="20.5" fill="#b0b0b0"/>
<rect x="856.5" y="537.0" width="120.5" height="20.5" fill="#cecece"/>
<rect x="976.5" y="537.0" width="20.5" height="20.5" fill="#b0b0b0"/>
<rect x="996.5" y="537.0" width="40.5" height="20.5" fill="#a4a4a4"/>
<rect x="1036.5" y="537.0" width="20.5" height="20.5" fill="#b0b0b0"/>
<rect x="1056.5" y="537.0" width="40.5" height="20.5" fill="#cecece"/>
<rect x="1096.5" y="537.0" width="20.5" height="20.5" fill="#b0b0b0"/>
<rect x="1116.5" y="537.0" width="20.5" height="20.5" fill="#989898"/>
<rect x="1136.5" y="537.0" width="20.5" height="20.5" fill="#808080"/>
<rect x="1156.5" y="537.0" width="20.5" height="20.5" fill="#989898"/>
<rect x="1176.5" y="537.0" width="20.5" height="20.5" fill="#a4a4a4"/>
<rect x="1196.5" y="537.0" width="20.5" height="20.5" fill="#989898"/>
<rect x="1216.5" y="537.0" width="60.5" height="20.5" fill="#a4a4a4"/>
<rect x="1276.5" y="537.0" width="20.5" height="20.5" fill="#989898"/>
<rect x="1296.5" y="537.0" width="20.5" height="20.5" fill="#737373"/>
<rect x="1316.5" y="537.0" width="40.5" height="20.5" fill="#676767"/>
<rect x="1356.5" y="537.0" width="20.5" height="20.5" fill="#4f4f4f"/>
<rect x="1376.5" y="537.0" width="20.5" height="20.5" fill="#5b5b5b"/>
<rect x="1396.5" y="537.0" width="80.5" height="20.5" fill="#4f4f4f"/>
<rect x="776.5" y="557.0" width="80.5" height="20.5" fill="#989898"/>
<rect x="856.5" y="557.0" width="80.5" height="20.5" fill="#cecece"/>
<rect x="936.5" y="557.0" width="40.5" height="20.5" fill="#b0b0b0"/>
<rect x="976.5" y="557.0" width="20.5" height="20.5" fill="#a4a4a4"/>
<rect x="996.5" y="557.0" width="20.5" height="20.5" fill="#989898"/>
<rect x="1016.5" y="557.0" width="40.5" height="20.5" fill="#8c8c8c"/>
<rect x="1056.5" y="557.0" width="20.5" height="20.5" fill="#b0b0b0"/>
<rect x="1076.5" y="557.0" width="20.5" height="20.5" fill="#cecece"/>
<rect x="1096.5" y="557.0" width="20.5" height="20.5" fill="#a4a4a4"/>
<rect x="1116.5" y="557.0" width="20.5" height="20.5" fill="#8c8c8c"/>
<rect x="1136.5" y="557.0" width="20.5" height="20.5" fill="#989898"/>
<rect x="1156.5" y="557.0" width="20.5" height="20.5" fill="#a4a4a4"/>
<rect x="1176.5" y="557.0" width="20.5" height="20.5" fill="#989898"/>
<rect x="1196.5" y="557.0" width="20.5" height="20.5" fill="#a4a4a4"/>
<rect x="1216.5" y="557.0" width="40.5" height="20.5" fill="#989898"/>
<rect x="1256.5" y="557.0" width="20.5" height="20.5" fill="#b0b0b0"/>
<rect x="1276.5" y="557.0" width="40.5" height="20.5" fill="#cecece"/>
<rect x="1316.5" y="557.0" width="20.5" height="20.5" fill="#989898"/>
<rect x="1336.5" y="557.0" width="40.5" height="20.5" fill="#8c8c8c"/>
<rect x="1376.5" y="557.0" width="20.5" height="20.5" fill="#808080"/>
<rect x="1396.5" y="557.0" width="80.5" height="20.5" fill="#8c8c8c"/>
<rect x="776.5" y="577.0" width="120.5" height="20.5" fill="#cecece"/>
<rect x="896.5" y="577.0" width="20.5" height="20.5" fill="#b0b0b0"/>
<rect x="916.5" y="577.0" width="20.5" height="20.5" fill="#676767"/>
<rect x="936.5" y="577.0" width="20.5" height="20.5" fill="#737373"/>
<rect x="956.5" y="577.0" width="20.5" height="20.5" fill="#8c8c8c"/>
<rect x="976.5" y="577.0" width="20.5" height="20.5" fill="#808080"/>
<rect x="996.5" y="577.0" width="20.5" height="20.5" fill="#989898"/>
<rect x="1016.5" y="577.0" width="20.5" height="20.5" fill="#8c8c8c"/>
<rect x="1036.5" y="577.0" width="40.5" height="20.5" fill="#737373"/>
<rect x="1076.5" y="577.0" width="20.5" height="20.5" fill="#8c8c8c"/>
<rect x="1096.5" y="577.0" width="20.5" height="20.5" fill="#737373"/>
<rect x="1116.5" y="577.0" width="20.5" height="20.5" fill="#808080"/>
<rect x="1136.5" y="577.0" width="20.5" height="20.5" fill="#a4a4a4"/>
<rect x="1156.5" y="577.0" width="20.5" height="20.5" fill="#b0b0b0"/>
<rect x="1176.5" y="577.0" width="20.5" height="20.5" fill="#989898"/>
<rect x="1196.5" y="577.0" width="20.5" height="20.5" fill="#808080"/>
<rect x="1216.5" y="577.0" width="20.5" height="20.5" fill="#737373"/>
<rect x="1236.5" y="577.0" width="20.5" height="20.5" fill="#676767"/>
<rect x="1256.5" y="577.0" width="20.5" height="20.5" fill="#989898"/>
<rect x="1276.5" y="577.0" width="40.5" height="20.5" fill="#cecece"/>
<rect x="1316.5" y="577.0" width="20.5" height="20.5" fill="#a4a4a4"/>
<rect x="1336.5" y="577.0" width="20.5" height="20.5" fill="#8c8c8c"/>
<rect x="1356.5" y="577.0" width="20.5" height="20.5" fill="#676767"/>
<rect x="1376.5" y="577.0" width="20.5" height="20.5" fill="#a4a4a4"/>
<rect x="1396.5" y="577.0" width="80.5" height="20.5" fill="#cecece"/>
<rect x="776.5" y="597.0" width="80.5" height="20.5" fill="#cecece"/>
<rect x="856.5" y="597.0" width="20.5" height="20.5" fill="#b0b0b0"/>
<rect x="876.5" y="597.0" width="20.5" height="20.5" fill="#989898"/>
<rect x="896.5" y="597.0" width="20.5" height="20.5" fill="#676767"/>
<rect x="916.5" y="597.0" width="20.5" height="20.5" fill="#5b5b5b"/>
<rect x="936.5" y="597.0" width="40.5" height="20.5" fill="#676767"/>
<rect x="976.5" y="597.0" width="20.5" height="20.5" fill="#5b5b5b"/>
<rect x="996.5" y="597.0" width="20.5" height="20.5" fill="#8c8c8c"/>
<rect x="1016.5" y="597.0" width="20.5" height="20.5" fill="#b0b0b0"/>
<rect x="1036.5" y="597.0" width="20.5" height="20.5" fill="#8c8c8c"/>
<rect x="1056.5" y="597.0" width="20.5" height="20.5" fill="#737373"/>
<rect x="1076.5" y="597.0" width="20.5" height="20.5" fill="#8c8c8c"/>
<rect x="1096.5" y="597.0" width="20.5" height="20.5" fill="#989898"/>
<rect x="1116.5" y="597.0" width="20.5" height="20.5" fill="#b0b0b0"/>
<rect x="1136.5" y="597.0" width="40.5" height="20.5" fill="#cecece"/>
<rect x="1176.5" y="597.0" width="20.5" height="20.5" fill="#b0b0b0"/>
<rect x="1196.5" y="597.0" width="20.5" height="20.5" fill="#8c8c8c"/>
<rect x="1216.5" y="597.0" width="20.5" height="20.5" fill="#676767"/>
<rect x="1236.5" y="597.0" width="20.5" height="20.5" fill="#5b5b5b"/>
<rect x="1256.5" y="597.0" width="20.5" height="20.5" fill="#8c8c8c"/>
<rect x="1276.5" y="597.0" width="40.5" height="20.5" fill="#cecece"/>
<rect x="1316.5" y="597.0" width="20.5" height="20.5" fill="#a4a4a4"/>
<rect x="1336.5" y="597.0" width="20.5" height="20.5" fill="#8c8c8c"/>
<rect x="1356.5" y="597.0" width="20.5" height="20.5" fill="#737373"/>
<rect x="1376.5" y="597.0" width="20.5" height="20.5" fill="#989898"/>
<rect x="1396.5" y="597.0" width="80.5" height="20.5" fill="#b0b0b0"/>
<rect x="776.5" y="617.0" width="120.5" height="20.5" fill="#5b5b5b"/>
<rect x="896.5" y="617.0" width="20.5" height="20.5" fill="#676767"/>
<rect x="916.5" y="617.0" width="20.5" height="20.5" fill="#5b5b5b"/>
<rect x="936.5" y="617.0" width="20.5" height="20.5" fill="#4f4f4f"/>
<rect x="956.5" y="617.0" width="20.5" height="20.5" fill="#676767"/>
<rect x="976.5" y="617.0" width="20.5" height="20.5" fill="#8c8c8c"/>
<rect x="996.5" y="617.0" width="40.5" height="20.5" fill="#cecece"/>
<rect x="1036.5" y="617.0" width="20.5" height="20.5" fill="#8c8c8c"/>
<rect x="1056.5" y="617.0" width="20.5" height="20.5" fill="#808080"/>
<rect x="1076.5" y="617.0" width="20.5" height="20.5" fill="#8c8c8c"/>
<rect x="1096.5" y="617.0" width="20.5" height="20.5" fill="#989898"/>
<rect x="1116.5" y="617.0" width="80.5" height="20.5" fill="#cecece"/>
<rect x="1196.5" y="617.0" width="20.5" height="20.5" fill="#a4a4a4"/>
<rect x="1216.5" y="617.0" width="40.5" height="20.5" fill="#737373"/>
<rect x="1256.5" y="617.0" width="20.5" height="20.5" fill="#8c8c8c"/>
<rect x="1276.5" y="617.0" width="20.5" height="20.5" fill="#a4a4a4"/>
<rect x="1296.5" y="617.0" width="20.5" height="20.5" fill="#989898"/>
<rect x="1316.5" y="617.0" width="20.5" height="20.5" fill="#8c8c8c"/>
<rect x="1336.5" y="617.0" width="20.5" height="20.5" fill="#808080"/>
<rect x="1356.5" y="617.0" width="20.5" height="20.5" fill="#737373"/>
<rect x="1376.5" y="617.0" width="100.5" height="20.5" fill="#808080"/>
<rect x="776.5" y="637.0" width="100.5" height="20.5" fill="#434343"/>
<rect x="876.5" y="637.0" width="20.5" height="20.5" fill="#4f4f4f"/>
<rect x="896.5" y="637.0" width="20.5" height="20.5" fill="#676767"/>
<rect x="916.5" y="637.0" width="40.5" height="20.5" fill="#4f4f4f"/>
<rect x="956.5" y="637.0" width="20.5" height="20.5" fill="#737373"/>
<rect x="976.5" y="637.0" width="20.5" height="20.5" fill="#8c8c8c"/>
<rect x="996.5" y="637.0" width="20.5" height="20.5" fill="#989898"/>
<rect x="1016.5" y="637.0" width="20.5" height="20.5" fill="#8c8c8c"/>
<rect x="1036.5" y="637.0" width="20.5" height="20.5" fill="#676767"/>
<rect x="1056.5" y="637.0" width="40.5" height="20.5" fill="#737373"/>
<rect x="1096.5" y="637.0" width="20.5" height="20.5" fill="#8c8c8c"/>
<rect x="1116.5" y="637.0" width="20.5" height="20.5" fill="#b0b0b0"/>
<rect x="1136.5" y="637.0" width="40.5" height="20.5" fill="#cecece"/>
<rect x="1176.5" y="637.0" width="20.5" height="20.5" fill="#b0b0b0"/>
<rect x="1196.5" y="637.0" width="20.5" height="20.5" fill="#8c8c8c"/>
<rect x="1216.5" y="637.0" width="20.5" height="20.5" fill="#737373"/>
<rect x="1236.5" y="637.0" width="20.5" height="20.5" fill="#676767"/>
<rect x="1256.5" y="637.0" width="20.5" height="20.5" fill="#737373"/>
<rect x="1276.5" y="637.0" width="120.5" height="20.5" fill="#676767"/>
<rect x="1396.5" y="637.0" width="80.5" height="20.5" fill="#5b5b5b"/>
<rect x="776.5" y="657.0" width="80.5" height="20.5" fill="#5b5b5b"/>
<rect x="856.5" y="657.0" width="20.5" height="20.5" fill="#373737"/>
<rect x="876.5" y="657.0" width="80.5" height="20.5" fill="#434343"/>
<rect x="956.5" y="657.0" width="20.5" height="20.5" fill="#4f4f4f"/>
<rect x="976.5" y="657.0" width="20.5" height="20.5" fill="#737373"/>
<rect x="996.5" y="657.0" width="20.5" height="20.5" fill="#808080"/>
<rect x="1016.5" y="657.0" width="20.5" height="20.5" fill="#5b5b5b"/>
<rect x="1036.5" y="657.0" width="20.5" height="20.5" fill="#121212"/>
<rect x="1056.5" y="657.0" width="20.5" height="20.5" fill="#373737"/>
<rect x="1076.5" y="657.0" width="20.5" height="20.5" fill="#434343"/>
<rect x="1096.5" y="657.0" width="20.5" height="20.5" fill="#5b5b5b"/>
<rect x="1116.5" y="657.0" width="20.5" height="20.5" fill="#808080"/>
<rect x="1136.5" y="657.0" width="20.5" height="20.5" fill="#8c8c8c"/>
<rect x="1156.5" y="657.0" width="20.5" height="20.5" fill="#808080"/>
<rect x="1176.5" y="657.0" width="20.5" height="20.5" fill="#737373"/>
<rect x="1196.5" y="657.0" width="20.5" height="20.5" fill="#676767"/>
<rect x="1216.5" y="657.0" width="20.5" height="20.5" fill="#5b5b5b"/>
<rect x="1236.5" y="657.0" width="20.5" height="20.5" fill="#4f4f4f"/>
<rect x="1256.5" y="657.0" width="100.5" height="20.5" fill="#5b5b5b"/>
<rect x="1356.5" y="657.0" width="20.5" height="20.5" fill="#676767"/>
<rect x="1376.5" y="657.0" width="100.5" height="20.5" fill="#5b5b5b"/>
<rect x="776.5" y="677.0" width="100.5" height="20.5" fill="#5b5b5b"/>
<rect x="876.5" y="677.0" width="20.5" height="20.5" fill="#676767"/>
<rect x="896.5" y="677.0" width="20.5" height="20.5" fill="#4f4f4f"/>
<rect x="916.5" y="677.0" width="40.5" height="20.5" fill="#5b5b5b"/>
<rect x="956.5" y="677.0" width="20.5" height="20.5" fill="#4f4f4f"/>
<rect x="976.5" y="677.0" width="40.5" height="20.5" fill="#5b5b5b"/>
<rect x="1016.5" y="677.0" width="20.5" height="20.5" fill="#434343"/>
<rect x="1036.5" y="677.0" width="20.5" height="20.5" fill="#121212"/>
<rect x="1056.5" y="677.0" width="20.5" height="20.5" fill="#373737"/>
<rect x="1076.5" y="677.0" width="20.5" height="20.5" fill="#121212"/>
<rect x="1096.5" y="677.0" width="20.5" height="20.5" fill="#4f4f4f"/>
<rect x="1116.5" y="677.0" width="20.5" height="20.5" fill="#5b5b5b"/>
<rect x="1136.5" y="677.0" width="20.5" height="20.5" fill="#4f4f4f"/>
<rect x="1156.5" y="677.0" width="20.5" height="20.5" fill="#373737"/>
<rect x="1176.5" y="677.0" width="20.5" height="20.5" fill="#121212"/>
<rect x="1196.5" y="677.0" width="20.5" height="20.5" fill="#434343"/>
<rect x="1216.5" y="677.0" width="20.5" height="20.5" fill="#4f4f4f"/>
<rect x="1236.5" y="677.0" width="20.5" height="20.5" fill="#5b5b5b"/>
<rect x="1256.5" y="677.0" width="40.5" height="20.5" fill="#4f4f4f"/>
<rect x="1296.5" y="677.0" width="20.5" height="20.5" fill="#434343"/>
<rect x="1316.5" y="677.0" width="20.5" height="20.5" fill="#4f4f4f"/>
<rect x="1336.5" y="677.0" width="140.5" height="20.5" fill="#5b5b5b"/>
<rect x="776.5" y="697.0" width="100.5" height="20.5" fill="#5b5b5b"/>
<rect x="876.5" y="697.0" width="20.5" height="20.5" fill="#676767"/>
<rect x="896.5" y="697.0" width="20.5" height="20.5" fill="#4f4f4f"/>
<rect x="916.5" y="697.0" width="40.5" height="20.5" fill="#5b5b5b"/>
<rect x="956.5" y="697.0" width="20.5" height="20.5" fill="#4f4f4f"/>
<rect x="976.5" y="697.0" width="40.5" height="20.5" fill="#5b5b5b"/>
<rect x="1016.5" y="697.0" width="20.5" height="20.5" fill="#434343"/>
<rect x="1036.5" y="697.0" width="20.5" height="20.5" fill="#121212"/>
<rect x="1056.5" y="697.0" width="20.5" height="20.5" fill="#373737"/>
<rect x="1076.5" y="697.0" width="20.5" height="20.5" fill="#121212"/>
<rect x="1096.5" y="697.0" width="20.5" height="20.5" fill="#4f4f4f"/>
<rect x="1116.5" y="697.0" width="20.5" height="20.5" fill="#5b5b5b"/>
<rect x="1136.5" y="697.0" width="20.5" height="20.5" fill="#4f4f4f"/>
<rect x="1156.5" y="697.0" width="20.5" height="20.5" fill="#373737"/>
<rect x="1176.5" y="697.0" width="20.5" height="20.5" fill="#121212"/>
<rect x="1196.5" y="697.0" width="20.5" height="20.5" fill="#434343"/>
<rect x="1216.5" y="697.0" width="20.5" height="20.5" fill="#4f4f4f"/>
<rect x="1236.5" y="697.0" width="20.5" height="20.5" fill="#5b5b5b"/>
<rect x="1256.5" y="697.0" width="40.5" height="20.5" fill="#4f4f4f"/>
<rect x="1296.5" y="697.0" width="20.5" height="20.5" fill="#434343"/>
<rect x="1316.5" y="697.0" width="20.5" height="20.5" fill="#4f4f4f"/>
<rect x="1336.5" y="697.0" width="140.5" height="20.5" fill="#5b5b5b"/>
<rect x="776.5" y="717.0" width="100.5" height="20.5" fill="#5b5b5b"/>
<rect x="876.5" y="717.0" width="20.5" height="20.5" fill="#676767"/>
<rect x="896.5" y="717.0" width="20.5" height="20.5" fill="#4f4f4f"/>
<rect x="916.5" y="717.0" width="40.5" height="20.5" fill="#5b5b5b"/>
<rect x="956.5" y="717.0" width="20.5" height="20.5" fill="#4f4f4f"/>
<rect x="976.5" y="717.0" width="40.5" height="20.5" fill="#5b5b5b"/>
<rect x="1016.5" y="717.0" width="20.5" height="20.5" fill="#434343"/>
<rect x="1036.5" y="717.0" width="20.5" height="20.5" fill="#121212"/>
<rect x="1056.5" y="717.0" width="20.5" height="20.5" fill="#373737"/>
<rect x="1076.5" y="717.0" width="20.5" height="20.5" fill="#121212"/>
<rect x="1096.5" y="717.0" width="20.5" height="20.5" fill="#4f4f4f"/>
<rect x="1116.5" y="717.0" width="20.5" height="20.5" fill="#5b5b5b"/>
<rect x="1136.5" y="717.0" width="20.5" height="20.5" fill="#4f4f4f"/>
<rect x="1156.5" y="717.0" width="20.5" height="20.5" fill="#373737"/>
<rect x="1176.5" y="717.0" width="20.5" height="20.5" fill="#121212"/>
<rect x="1196.5" y="717.0" width="20.5" height="20.5" fill="#434343"/>
<rect x="1216.5" y="717.0" width="20.5" height="20.5" fill="#4f4f4f"/>
<rect x="1236.5" y="717.0" width="20.5" height="20.5" fill="#5b5b5b"/>
<rect x="1256.5" y="717.0" width="40.5" height="20.5" fill="#4f4f4f"/>
<rect x="1296.5" y="717.0" width="20.5" height="20.5" fill="#434343"/>
<rect x="1316.5" y="717.0" width="20.5" height="20.5" fill="#4f4f4f"/>
<rect x="1336.5" y="717.0" width="140.5" height="20.5" fill="#5b5b5b"/>
<rect x="776.5" y="737.0" width="100.5" height="20.5" fill="#5b5b5b"/>
<rect x="876.5" y="737.0" width="20.5" height="20.5" fill="#676767"/>
<rect x="896.5" y="737.0" width="20.5" height="20.5" fill="#4f4f4f"/>
<rect x="916.5" y="737.0" width="40.5" height="20.5" fill="#5b5b5b"/>
<rect x="956.5" y="737.0" width="20.5" height="20.5" fill="#4f4f4f"/>
<rect x="976.5" y="737.0" width="40.5" height="20.5" fill="#5b5b5b"/>
<rect x="1016.5" y="737.0" width="20.5" height="20.5" fill="#434343"/>
<rect x="1036.5" y="737.0" width="20.5" height="20.5" fill="#121212"/>
<rect x="1056.5" y="737.0" width="20.5" height="20.5" fill="#373737"/>
<rect x="1076.5" y="737.0" width="20.5" height="20.5" fill="#121212"/>
<rect x="1096.5" y="737.0" width="20.5" height="20.5" fill="#4f4f4f"/>
<rect x="1116.5" y="737.0" width="20.5" height="20.5" fill="#5b5b5b"/>
<rect x="1136.5" y="737.0" width="20.5" height="20.5" fill="#4f4f4f"/>
<rect x="1156.5" y="737.0" width="20.5" height="20.5" fill="#373737"/>
<rect x="1176.5" y="737.0" width="20.5" height="20.5" fill="#121212"/>
<rect x="1196.5" y="737.0" width="20.5" height="20.5" fill="#434343"/>
<rect x="1216.5" y="737.0" width="20.5" height="20.5" fill="#4f4f4f"/>
<rect x="1236.5" y="737.0" width="20.5" height="20.5" fill="#5b5b5b"/>
<rect x="1256.5" y="737.0" width="40.5" height="20.5" fill="#4f4f4f"/>
<rect x="1296.5" y="737.0" width="20.5" height="20.5" fill="#434343"/>
<rect x="1316.5" y="737.0" width="20.5" height="20.5" fill="#4f4f4f"/>
<rect x="1336.5" y="737.0" width="140.5" height="20.5" fill="#5b5b5b"/>
<ellipse cx="1160.6" cy="619.2" rx="40.0" ry="33.0" fill="#e1e1e1" transform="rotate(0 1160.6 619.2)"/>
<ellipse cx="1160.6" cy="600.0" rx="22.0" ry="20.0" fill="#e1e1e1" transform="rotate(0 1160.6 600.0)"/>
<ellipse cx="1299.0" cy="593.1" rx="28.0" ry="33.0" fill="#e1e1e1" transform="rotate(0 1299.0 593.1)"/>
<ellipse cx="1405.0" cy="593.0" rx="14.0" ry="20.0" fill="#e1e1e1" transform="rotate(0 1405.0 593.0)"/>
<ellipse cx="1092.5" cy="559.0" rx="26.0" ry="10.0" fill="#e1e1e1" transform="rotate(10 1092.5 559.0)"/>
<ellipse cx="1022.4" cy="621.2" rx="18.0" ry="10.0" fill="#e1e1e1" transform="rotate(-25 1022.4 621.2)"/>
<ellipse cx="1201.1" cy="411.1" rx="8.0" ry="15.0" fill="#373737" transform="rotate(-15 1201.1 411.1)"/>
<ellipse cx="1190.1" cy="371.1" rx="10.0" ry="16.0" fill="#a4a4a4" transform="rotate(20 1190.1 371.1)"/>
<ellipse cx="876.1" cy="211.1" rx="22.0" ry="12.0" fill="#a4a4a4" transform="rotate(20 876.1 211.1)"/>
<ellipse cx="930.2" cy="261.2" rx="12.0" ry="15.0" fill="#5b5b5b" transform="rotate(0 930.2 261.2)"/>
<ellipse cx="1126.3" cy="359.0" rx="22.0" ry="11.0" fill="#121212" transform="rotate(35 1126.3 359.0)"/>
</g></g>
<g clip-path="url(#cr)">
<path d="M1006.0,150.0 L1010.5,157.3 L1016.5,171.7 L1022.1,182.9 L1025.3,194.1 L1031.7,205.4 L1035.7,215.0 L1039.7,226.2 L1046.1,232.6 L1055.7,240.6" fill="none" stroke="#97b6e1" stroke-width="5.0" stroke-linejoin="round" stroke-linecap="round"/>
<path d="M1055.7,240.6 L1065.4,248.6 L1072.6,258.3 L1074.5,266.0 L1073.5,272.5 L1066.0,272.0 L1057.0,269.0 L1052.0,266.5" fill="none" stroke="#97b6e1" stroke-width="17.0" stroke-linejoin="round" stroke-linecap="round"/>
<path d="M1051.0,269.0 L1058.0,277.6 L1070.9,290.5" fill="none" stroke="#97b6e1" stroke-width="5.0" stroke-linejoin="round" stroke-linecap="round"/>
<path d="M1070.9,290.5 L1083.7,298.5 L1094.9,300.1 L1106.1,308.1 L1112.5,317.7 L1114.1,327.3 L1110.5,337.0" fill="none" stroke="#97b6e1" stroke-width="19.0" stroke-linejoin="round" stroke-linecap="round"/>
<path d="M1109.3,338.6 L1120.6,349.8 L1131.8,356.2 L1144.6,365.8 L1151.0,372.2" fill="none" stroke="#97b6e1" stroke-width="6.0" stroke-linejoin="round" stroke-linecap="round"/>
<path d="M1059.0,181.0 L1057.4,194.1 L1062.2,210.2 L1063.8,221.4" fill="none" stroke="#97b6e1" stroke-width="13.0" stroke-linejoin="round" stroke-linecap="round"/>
<path d="M1063.8,221.4 L1071.8,229.4 L1081.4,242.2" fill="none" stroke="#97b6e1" stroke-width="5.0" stroke-linejoin="round" stroke-linecap="round"/>
<path d="M1063.0,181.0 L1068.6,186.1 L1076.6,186.1 L1083.0,192.5 L1092.6,194.9 L1094.2,205.4" fill="none" stroke="#97b6e1" stroke-width="20.0" stroke-linejoin="round" stroke-linecap="round"/>
<path d="M1094.2,205.4 L1100.6,221.4 L1107.1,235.8 L1110.3,240.6 L1115.1,250.2" fill="none" stroke="#97b6e1" stroke-width="13.0" stroke-linejoin="round" stroke-linecap="round"/>
<path d="M1115.1,250.2 L1126.3,263.1 L1135.9,269.5 L1143.9,272.7 L1146.2,284.0" fill="none" stroke="#97b6e1" stroke-width="8.0" stroke-linejoin="round" stroke-linecap="round"/>
<path d="M1146.2,284.0 L1157.4,290.5 L1165.4,296.9 L1171.9,306.5 L1167.0,311.3 L1168.7,319.3" fill="none" stroke="#97b6e1" stroke-width="12.0" stroke-linejoin="round" stroke-linecap="round"/>
<path d="M1168.7,319.3 L1179.9,324.1 L1192.7,332.1 L1197.5,340.2" fill="none" stroke="#97b6e1" stroke-width="15.0" stroke-linejoin="round" stroke-linecap="round"/>
<path d="M1197.5,340.2 L1204.5,349.8 L1212.5,359.4 L1225.0,372.2" fill="none" stroke="#97b6e1" stroke-width="20.0" stroke-linejoin="round" stroke-linecap="round"/>
<path d="M1225.0,372.2 L1237.6,383.4 L1240.1,390.0" fill="none" stroke="#97b6e1" stroke-width="9.0" stroke-linejoin="round" stroke-linecap="round"/>
<path d="M1240.1,390.0 L1243.3,399.6 L1247.0,405.0" fill="none" stroke="#97b6e1" stroke-width="24.0" stroke-linejoin="round" stroke-linecap="round"/>
<path d="M1247.0,405.0 L1249.7,410.8 L1246.5,422.1" fill="none" stroke="#97b6e1" stroke-width="12.0" stroke-linejoin="round" stroke-linecap="round"/>
<path d="M1246.5,422.1 L1247.0,430.0" fill="none" stroke="#97b6e1" stroke-width="10.0" stroke-linejoin="round" stroke-linecap="round"/>
<path d="M1244.9,442.9 L1254.5,455.7 L1267.4,462.1 L1278.6,471.8 L1285.0,478.2 L1301.0,483.0 L1313.8,485.4 L1323.5,492.6 L1336.3,500.6 L1352.3,507.0 L1365.1,513.4 L1378.0,515.1 L1386.0,521.5 L1398.8,526.3 L1414.0,529.5" fill="none" stroke="#97b6e1" stroke-width="4.0" stroke-linejoin="round" stroke-linecap="round"/>
<path d="M1392.0,255.0 L1417.0,255.0 L1417.0,342.0 L1410.0,342.0 L1406.0,360.0 L1404.5,380.0 L1405.0,400.0 L1409.0,417.0 L1417.0,430.0 L1417.0,436.0 L1392.0,436.0Z" fill="#97b6e1"/>
<path d="M1002.0,128.0 L1003.0,140.0 L1006.0,150.0 L1010.5,157.3 L1011.7,162.1 L1016.5,171.7 L1022.1,182.9 L1025.3,194.1 L1031.7,205.4 L1035.7,215.0 L1039.7,226.2 L1046.1,232.6 L1055.7,240.6 L1065.4,248.6 L1072.6,258.3 L1074.5,266.0 L1073.5,272.5 L1066.0,272.0 L1057.0,269.0 L1048.4,264.8 L1051.0,269.0 L1058.0,277.6 L1070.9,290.5 L1083.7,298.5 L1088.0,297.0 L1090.1,292.1 L1092.0,298.0 L1094.9,300.1 L1106.1,308.1 L1112.5,317.7 L1114.1,327.3 L1112.0,334.0 L1109.3,338.6 L1114.0,344.0 L1120.6,349.8 L1131.8,356.2 L1144.6,365.8 L1151.0,372.2 L1155.8,380.2 L1160.0,378.5 L1163.8,375.4 L1166.3,367.4 L1164.0,363.0 L1160.6,361.0 L1158.0,356.0 L1157.4,353.0 L1152.0,352.0 L1147.8,353.0 L1143.0,349.8 L1141.0,345.0 L1139.8,340.2 L1135.0,327.3 L1128.6,312.9 L1122.2,300.1 L1112.5,285.7 L1102.9,272.8 L1098.1,260.0 L1094.2,256.7 L1081.4,242.2 L1071.8,229.4 L1063.8,221.4 L1062.2,210.2 L1057.4,194.1 L1057.4,183.0 L1059.0,179.7 L1063.0,181.0 L1068.6,186.1 L1076.6,186.1 L1083.0,192.5 L1092.6,194.9 L1094.2,205.4 L1100.6,221.4 L1107.1,235.8 L1110.3,240.6 L1115.1,250.2 L1126.3,263.1 L1135.9,269.5 L1143.9,272.7 L1146.2,284.0 L1157.4,290.5 L1165.4,296.9 L1171.9,306.5 L1167.0,311.3 L1168.7,319.3 L1179.9,324.1 L1192.7,332.1 L1197.5,340.2 L1204.5,349.8 L1212.5,359.4 L1225.0,372.2 L1237.6,383.4 L1240.1,390.0 L1243.3,399.6 L1249.7,410.8 L1246.5,422.1 L1247.3,427.0 L1243.0,428.5 L1247.0,431.5 L1240.1,433.3 L1244.9,442.9 L1254.5,455.7 L1267.4,462.1 L1278.6,471.8 L1285.0,478.2 L1301.0,483.0 L1313.8,485.4 L1323.5,492.6 L1336.3,500.6 L1352.3,507.0 L1365.1,513.4 L1378.0,515.1 L1386.0,521.5 L1398.8,526.3 L1414.0,529.5 L1424.0,531.0 L1424.0,432.4 L1414.2,432.4 L1406.7,417.6 L1399.8,403.8 L1396.8,388.0 L1397.2,368.3 L1397.8,348.6 L1400.8,328.9 L1409.6,315.1 L1408.6,309.2 L1402.7,289.4 L1406.7,275.6 L1414.2,262.8 L1424.0,262.0 L1424.0,128.0Z" fill="#d2b48c" stroke="#000" stroke-width="2.4" stroke-linejoin="round"/>
<path d="M1085.0,233.0 L1088.0,233.5 L1092.5,242.0 L1093.0,247.0 L1090.0,246.0 L1085.5,238.0Z" fill="#d2b48c" stroke="#000" stroke-width="1.6" stroke-linejoin="round"/>
<path d="M1105.5,243.0 L1109.0,240.5 L1111.0,245.0 L1108.5,250.0 L1105.5,248.0Z" fill="#d2b48c" stroke="#000" stroke-width="1.6" stroke-linejoin="round"/>
<path d="M1049.0,261.5 L1051.5,261.5 L1051.5,266.0 L1049.5,266.0Z" fill="#d2b48c" stroke="#000" stroke-width="1.6" stroke-linejoin="round"/>
<path d="M1414.2,262.8 L1409.6,264.8 L1410.6,268.7 L1404.7,270.7 L1406.7,274.7 L1401.7,276.6 L1404.7,279.6 L1397.8,282.5 L1401.7,286.5 L1402.7,292.4 L1404.7,301.3 L1406.7,309.2 L1409.6,313.5 L1410.0,309.2 L1407.7,299.3 L1407.1,289.4 L1409.0,279.6 L1414.2,271.7Z" fill="#1a1f24" stroke="#000" stroke-width="1" stroke-linejoin="round"/>
<path d="M1404.7,324.0 L1398.8,325.9 L1396.8,330.9 L1399.8,336.8 L1396.8,344.7 L1395.8,352.6 L1397.8,360.5 L1399.8,348.6 L1401.7,336.8 L1405.7,326.9Z" fill="#1a1f24" stroke="#000" stroke-width="1" stroke-linejoin="round"/>
<path d="M1397.2,386.1 L1398.8,399.9 L1402.7,409.8 L1408.6,413.7 L1404.7,405.8 L1400.8,397.9 L1398.8,388.1Z" fill="#1a1f24" stroke="#000" stroke-width="1" stroke-linejoin="round"/>
<path d="M1034.5,142.5 L1037.0,142.0 L1043.0,148.0 L1042.0,150.0 L1039.5,149.5Z" fill="#b0b4bb"/>
<circle cx="1043.5" cy="262.0" r="0.9" fill="#000"/>
<circle cx="987.5" cy="245.5" r="1.4" fill="#000"/>
<circle cx="988.5" cy="248.0" r="1.2" fill="#000"/>
<circle cx="965.0" cy="147.4" r="1.6" fill="#000"/>
<circle cx="974.5" cy="142.0" r="0.8" fill="#000"/>
<circle cx="1221.5" cy="405.5" r="1.3" fill="#000"/>
<circle cx="1224.0" cy="408.5" r="1.5" fill="#000"/>
<circle cx="1227.0" cy="411.5" r="1.2" fill="#000"/>
<circle cx="1229.5" cy="414.0" r="1.0" fill="#000"/>
<circle cx="1132.8" cy="469.2" r="1.6" fill="#000"/>
<circle cx="1137.8" cy="455.2" r="0.9" fill="#000"/>
<circle cx="1060.1" cy="476.7" r="1.0" fill="#000"/>
<circle cx="1170.3" cy="641.0" r="0.7" fill="#000"/>
<path d="M1060.6,160.5 L1050.9,173.3 L1057.4,179.7" fill="none" stroke="#97b6e1" stroke-width="1.5" stroke-linejoin="round"/>
<path d="M1065.4,159.7 L1078.2,155.7 L1094.2,150.8 L1100.6,146.0 L1105.4,145.2 L1126.3,151.6 L1142.3,149.2 L1152.0,150.0 L1163.2,156.5 L1174.4,161.3 L1182.4,157.3 L1192.0,146.0 L1190.4,140.4" fill="none" stroke="#97b6e1" stroke-width="1.5" stroke-linejoin="round"/>
<path d="M1214.4,137.2 L1208.8,154.0 L1216.0,164.5 L1220.9,177.3" fill="none" stroke="#97b6e1" stroke-width="1.5" stroke-linejoin="round"/>
<path d="M1321.0,141.2 L1329.9,149.2 L1343.5,155.7 L1353.9,151.6 L1355.5,144.4 L1365.1,139.9 L1378.0,149.2 L1389.2,158.9 L1400.4,170.1 L1414.0,190.9" fill="none" stroke="#97b6e1" stroke-width="1.5" stroke-linejoin="round"/>
<path d="M1220.9,177.3 L1226.5,184.5 L1232.1,190.9 L1244.9,202.9 L1254.5,208.6 L1259.3,218.2 L1262.5,229.4 L1272.2,238.2 L1281.8,242.2 L1290.6,246.2 L1296.2,240.6 L1299.4,231.0 L1307.4,226.2 L1315.4,227.8 L1323.5,227.8 L1331.5,235.8 L1339.5,242.2 L1345.9,253.4 L1349.1,263.1 L1357.1,271.1 L1363.5,277.5 L1365.3,289.4 L1371.2,303.3 L1390.9,311.1 L1408.6,315.1" fill="none" stroke="#97b6e1" stroke-width="1.5" stroke-linejoin="round"/>
<path d="M1246.5,406.0 L1259.3,403.6 L1269.0,415.7 L1283.4,419.7 L1291.4,431.7 L1298.6,434.9 L1298.0,437.5 L1288.2,437.3" fill="none" stroke="#97b6e1" stroke-width="1.5" stroke-linejoin="round"/>
<path d="M1347.5,397.2 L1360.3,406.0 L1368.4,406.0 L1384.4,399.6 L1397.2,394.8" fill="none" stroke="#97b6e1" stroke-width="1.5" stroke-linejoin="round"/>
<path d="M1064.6,136.0 L1063.0,143.0 L1066.5,148.0 L1064.0,153.0 L1065.0,158.0 L1060.6,160.0" fill="none" stroke="#000" stroke-width="1.9"/>
<path d="M1173.6,136.0 L1173.6,192.5" fill="none" stroke="#000" stroke-width="1.9"/>
<path d="M1293.0,136.0 L1293.0,177.3 L1220.9,177.3" fill="none" stroke="#000" stroke-width="1.9"/>
<path d="M1013.3,164.1 L1060.6,159.7" fill="none" stroke="#000" stroke-width="1.9" stroke-dasharray="7.2,3.1"/>
<path d="M1059.0,166.1 L1134.3,192.5 L1190.4,192.5 L1190.4,182.3 L1225.7,182.3" fill="none" stroke="#000" stroke-width="1.9" stroke-dasharray="7.2,3.1"/>
<path d="M1220.9,177.3 L1226.5,184.5 L1232.1,190.9 L1244.9,202.9 L1254.5,208.6 L1259.3,218.2 L1262.5,229.4 L1272.2,238.2 L1281.8,242.2 L1290.6,246.2 L1296.2,240.6 L1299.4,231.0 L1307.4,226.2 L1315.4,227.8 L1323.5,227.8 L1331.5,235.8 L1339.5,242.2 L1345.9,253.4 L1349.1,263.1 L1357.1,271.1 L1363.5,277.5 L1365.3,289.4 L1371.2,303.3 L1390.9,311.1 L1408.6,315.1" fill="none" stroke="#000" stroke-width="1.9" stroke-dasharray="7.2,3.1"/>
</g>
<g clip-path="url(#cr)">
<path d="M890.7,155.2 L900.0,145.0 L908.0,140.0 L914.0,138.3" fill="none" stroke="#fff" stroke-width="13" stroke-linejoin="round"/>
<path d="M978.7,153.0 L1000.5,145.6 L1009.5,146.8" fill="none" stroke="#fff" stroke-width="13" stroke-linejoin="round"/>
<circle cx="1008.5" cy="146.8" r="6.3" fill="#fff"/>
<circle cx="934.5" cy="489.0" r="5.8" fill="#1f77b4" stroke="#000" stroke-width="1.4"/>
<polygon points="1166.5,608.5 1171.5,611.4 1171.5,617.2 1166.5,620.1 1161.5,617.2 1161.5,611.4" fill="#4090c7" stroke="#000" stroke-width="1.4" stroke-linejoin="miter"/>
<polygon points="1147.0,402.5 1152.8,406.7 1150.6,413.5 1143.4,413.5 1141.2,406.7" fill="#68abda" stroke="#000" stroke-width="1.4" stroke-linejoin="miter"/>
<circle cx="895.5" cy="182.1" r="5.8" fill="#94c8ec" stroke="#000" stroke-width="1.4"/>
<polygon points="1233.7,421.4 1238.7,424.3 1238.7,430.1 1233.7,433.0 1228.7,430.1 1228.7,424.3" fill="#c7e8ff" stroke="#000" stroke-width="1.4" stroke-linejoin="miter"/>
<polygon points="1314.9,505.8 1320.7,510.0 1318.5,516.8 1311.3,516.8 1309.1,510.0" fill="#ff7f0e" stroke="#000" stroke-width="1.4" stroke-linejoin="miter"/>
<circle cx="891.2" cy="615.3" r="5.8" fill="#ff983c" stroke="#000" stroke-width="1.4"/>
<polygon points="981.3,238.4 986.3,241.3 986.3,247.1 981.3,250.0 976.3,247.1 976.3,241.3" fill="#ffb06a" stroke="#000" stroke-width="1.4" stroke-linejoin="miter"/>
<polygon points="885.8,487.8 891.6,492.0 889.4,498.8 882.2,498.8 880.0,492.0" fill="#ffc999" stroke="#000" stroke-width="1.4" stroke-linejoin="miter"/>
<circle cx="1045.0" cy="564.6" r="5.8" fill="#ffe1c7" stroke="#000" stroke-width="1.4"/>
<polygon points="1164.3,521.7 1169.3,524.6 1169.3,530.4 1164.3,533.3 1159.3,530.4 1159.3,524.6" fill="#2ca02c" stroke="#000" stroke-width="1.4" stroke-linejoin="miter"/>
<circle cx="895.5" cy="434.3" r="5.8" fill="#6dd06d" stroke="#000" stroke-width="1.4"/>
<polygon points="949.2,280.9 954.2,283.8 954.2,289.6 949.2,292.5 944.2,289.6 944.2,283.8" fill="#97e797" stroke="#000" stroke-width="1.4" stroke-linejoin="miter"/>
<polygon points="1143.7,597.3 1149.5,601.5 1147.3,608.3 1140.1,608.3 1137.9,601.5" fill="#c7ffc7" stroke="#000" stroke-width="1.4" stroke-linejoin="miter"/>
<circle cx="850.4" cy="648.3" r="5.8" fill="#d62728" stroke="#000" stroke-width="1.4"/>
<polygon points="1047.4,580.7 1052.4,583.6 1052.4,589.4 1047.4,592.3 1042.4,589.4 1042.4,583.6" fill="#e04a4b" stroke="#000" stroke-width="1.4" stroke-linejoin="miter"/>
<polygon points="1051.1,550.7 1056.9,554.9 1054.7,561.7 1047.5,561.7 1045.3,554.9" fill="#eb7172" stroke="#000" stroke-width="1.4" stroke-linejoin="miter"/>
<circle cx="946.3" cy="609.3" r="5.8" fill="#f59a9b" stroke="#000" stroke-width="1.4"/>
<polygon points="855.6,336.7 860.6,339.6 860.6,345.4 855.6,348.3 850.6,345.4 850.6,339.6" fill="#ffc7c7" stroke="#000" stroke-width="1.4" stroke-linejoin="miter"/>
<polygon points="963.9,500.8 969.7,505.0 967.5,511.8 960.3,511.8 958.1,505.0" fill="#9467bd" stroke="#000" stroke-width="1.4" stroke-linejoin="miter"/>
<circle cx="881.5" cy="236.2" r="5.8" fill="#a77cce" stroke="#000" stroke-width="1.4"/>
<polygon points="845.6,296.6 850.6,299.5 850.6,305.3 845.6,308.2 840.6,305.3 840.6,299.5" fill="#ba93de" stroke="#000" stroke-width="1.4" stroke-linejoin="miter"/>
<polygon points="1404.6,659.8 1410.4,664.0 1408.2,670.8 1401.0,670.8 1398.8,664.0" fill="#cfacee" stroke="#000" stroke-width="1.4" stroke-linejoin="miter"/>
<circle cx="1223.1" cy="621.4" r="5.8" fill="#e4c7ff" stroke="#000" stroke-width="1.4"/>
<polygon points="995.3,616.7 1000.3,619.6 1000.3,625.4 995.3,628.3 990.3,625.4 990.3,619.6" fill="#8c564b" stroke="#000" stroke-width="1.4" stroke-linejoin="miter"/>
<polygon points="1016.8,298.9 1022.6,303.1 1020.4,309.9 1013.2,309.9 1011.0,303.1" fill="#a97065" stroke="#000" stroke-width="1.4" stroke-linejoin="miter"/>
<circle cx="1386.2" cy="653.5" r="5.8" fill="#c68d82" stroke="#000" stroke-width="1.4"/>
<polygon points="870.4,642.5 875.4,645.4 875.4,651.2 870.4,654.1 865.4,651.2 865.4,645.4" fill="#e2ada3" stroke="#000" stroke-width="1.4" stroke-linejoin="miter"/>
<polygon points="937.8,326.0 943.6,330.2 941.4,337.0 934.2,337.0 932.0,330.2" fill="#ffd0c7" stroke="#000" stroke-width="1.4" stroke-linejoin="miter"/>
<circle cx="1288.4" cy="679.3" r="5.8" fill="#e377c2" stroke="#000" stroke-width="1.4"/>
<polygon points="1296.4,524.5 1301.4,527.4 1301.4,533.2 1296.4,536.1 1291.4,533.2 1291.4,527.4" fill="#ea8acd" stroke="#000" stroke-width="1.4" stroke-linejoin="miter"/>
<polygon points="886.7,651.5 892.5,655.7 890.3,662.5 883.1,662.5 880.9,655.7" fill="#f19dd7" stroke="#000" stroke-width="1.4" stroke-linejoin="miter"/>
<circle cx="877.7" cy="164.5" r="5.8" fill="#f8b2e2" stroke="#000" stroke-width="1.4"/>
<polygon points="966.3,334.3 971.3,337.2 971.3,343.0 966.3,345.9 961.3,343.0 961.3,337.2" fill="#ffc7ee" stroke="#000" stroke-width="1.4" stroke-linejoin="miter"/>
<polygon points="1162.8,473.7 1168.6,477.9 1166.4,484.7 1159.2,484.7 1157.0,477.9" fill="#7f7f7f" stroke="#000" stroke-width="1.4" stroke-linejoin="miter"/>
<circle cx="1158.7" cy="410.2" r="5.8" fill="#9f9696" stroke="#000" stroke-width="1.4"/>
<polygon points="840.4,465.2 845.4,468.1 845.4,473.9 840.4,476.8 835.4,473.9 835.4,468.1" fill="#bfaaaa" stroke="#000" stroke-width="1.4" stroke-linejoin="miter"/>
<polygon points="1063.9,527.9 1069.7,532.1 1067.5,538.9 1060.3,538.9 1058.1,532.1" fill="#dfbaba" stroke="#000" stroke-width="1.4" stroke-linejoin="miter"/>
<circle cx="1051.6" cy="403.2" r="5.8" fill="#ffc7c7" stroke="#000" stroke-width="1.4"/>
<polygon points="1231.5,610.6 1236.5,613.5 1236.5,619.3 1231.5,622.2 1226.5,619.3 1226.5,613.5" fill="#bcbd22" stroke="#000" stroke-width="1.4" stroke-linejoin="miter"/>
<polygon points="914.0,127.0 902.7,149.6 925.3,149.6" fill="#ff7f0e" stroke="#000" stroke-width="2.0" stroke-linejoin="miter"/>
<polygon points="1000.5,134.3 989.2,156.9 1011.8,156.9" fill="#2ca02c" stroke="#000" stroke-width="2.0" stroke-linejoin="miter"/>
</g>
<rect x="836.5" y="137.0" width="578.0" height="551.5" fill="none" stroke="#000" stroke-width="1.1"/>
<path d="M836.5,688.5v9 M836.5,137.0v-9 M896.3,688.5v9 M896.3,137.0v-9 M956.1,688.5v9 M956.1,137.0v-9 M1015.9,688.5v9 M1015.9,137.0v-9 M1075.7,688.5v9 M1075.7,137.0v-9 M1135.5,688.5v9 M1135.5,137.0v-9 M1195.2,688.5v9 M1195.2,137.0v-9 M1255.0,688.5v9 M1255.0,137.0v-9 M1314.8,688.5v9 M1314.8,137.0v-9 M1374.6,688.5v9 M1374.6,137.0v-9 M836.5,668.9h-9 M1414.5,668.9h9 M836.5,608.5h-9 M1414.5,608.5h9 M836.5,547.4h-9 M1414.5,547.4h9 M836.5,485.4h-9 M1414.5,485.4h9 M836.5,422.3h-9 M1414.5,422.3h9 M836.5,358.0h-9 M1414.5,358.0h9 M836.5,292.1h-9 M1414.5,292.1h9 M836.5,224.4h-9 M1414.5,224.4h9 M836.5,154.6h-9 M1414.5,154.6h9" stroke="#000" stroke-width="2.8" fill="none"/>
<path d="M856.4,688.5v3.6 M856.4,137.0v-3.6 M876.4,688.5v3.6 M876.4,137.0v-3.6 M916.2,688.5v3.6 M916.2,137.0v-3.6 M936.1,688.5v3.6 M936.1,137.0v-3.6 M976.0,688.5v3.6 M976.0,137.0v-3.6 M995.9,688.5v3.6 M995.9,137.0v-3.6 M1035.8,688.5v3.6 M1035.8,137.0v-3.6 M1055.7,688.5v3.6 M1055.7,137.0v-3.6 M1095.6,688.5v3.6 M1095.6,137.0v-3.6 M1115.5,688.5v3.6 M1115.5,137.0v-3.6 M1155.4,688.5v3.6 M1155.4,137.0v-3.6 M1175.3,688.5v3.6 M1175.3,137.0v-3.6 M1215.2,688.5v3.6 M1215.2,137.0v-3.6 M1235.1,688.5v3.6 M1235.1,137.0v-3.6 M1275.0,688.5v3.6 M1275.0,137.0v-3.6 M1294.9,688.5v3.6 M1294.9,137.0v-3.6 M1334.8,688.5v3.6 M1334.8,137.0v-3.6 M1354.7,688.5v3.6 M1354.7,137.0v-3.6 M1394.5,688.5v3.6 M1394.5,137.0v-3.6 M1414.5,688.5v3.6 M1414.5,137.0v-3.6 M836.5,688.9h-3.6 M1414.5,688.9h3.6 M836.5,648.8h-3.6 M1414.5,648.8h3.6 M836.5,628.7h-3.6 M1414.5,628.7h3.6 M836.5,588.2h-3.6 M1414.5,588.2h3.6 M836.5,567.8h-3.6 M1414.5,567.8h3.6 M836.5,526.8h-3.6 M1414.5,526.8h3.6 M836.5,506.2h-3.6 M1414.5,506.2h3.6 M836.5,464.5h-3.6 M1414.5,464.5h3.6 M836.5,443.5h-3.6 M1414.5,443.5h3.6 M836.5,401.0h-3.6 M1414.5,401.0h3.6 M836.5,379.6h-3.6 M1414.5,379.6h3.6 M836.5,336.2h-3.6 M1414.5,336.2h3.6 M836.5,314.2h-3.6 M1414.5,314.2h3.6 M836.5,269.7h-3.6 M1414.5,269.7h3.6 M836.5,247.2h-3.6 M1414.5,247.2h3.6 M836.5,201.4h-3.6 M1414.5,201.4h3.6 M836.5,178.1h-3.6 M1414.5,178.1h3.6" stroke="#000" stroke-width="1.3" fill="none"/>
<text x="799.02" y="720.80" font-size="23.30" textLength="71.53" lengthAdjust="spacingAndGlyphs">126°W</text>
<text x="858.81" y="720.80" font-size="23.30" textLength="71.53" lengthAdjust="spacingAndGlyphs">123°W</text>
<text x="918.60" y="720.80" font-size="23.30" textLength="71.53" lengthAdjust="spacingAndGlyphs">120°W</text>
<text x="978.34" y="720.80" font-size="23.30" textLength="71.60" lengthAdjust="spacingAndGlyphs">117°W</text>
<text x="1038.13" y="720.80" font-size="23.30" textLength="71.60" lengthAdjust="spacingAndGlyphs">114°W</text>
<text x="1097.87" y="720.80" font-size="23.30" textLength="71.67" lengthAdjust="spacingAndGlyphs">111°W</text>
<text x="1157.76" y="720.80" font-size="23.30" textLength="71.53" lengthAdjust="spacingAndGlyphs">108°W</text>
<text x="1217.55" y="720.80" font-size="23.30" textLength="71.53" lengthAdjust="spacingAndGlyphs">105°W</text>
<text x="1277.34" y="720.80" font-size="23.30" textLength="71.53" lengthAdjust="spacingAndGlyphs">102°W</text>
<text x="1344.65" y="720.80" font-size="23.30" textLength="58.01" lengthAdjust="spacingAndGlyphs">99°W</text>
<text x="1429.81" y="677.11" font-size="23.30" textLength="40.71" lengthAdjust="spacingAndGlyphs">9°N</text>
<text x="1429.03" y="616.69" font-size="23.30" textLength="55.57" lengthAdjust="spacingAndGlyphs">12°N</text>
<text x="1429.03" y="555.58" font-size="23.30" textLength="55.57" lengthAdjust="spacingAndGlyphs">15°N</text>
<text x="1429.03" y="493.60" font-size="23.30" textLength="55.57" lengthAdjust="spacingAndGlyphs">18°N</text>
<text x="1429.67" y="430.54" font-size="23.30" textLength="54.90" lengthAdjust="spacingAndGlyphs">21°N</text>
<text x="1429.67" y="366.18" font-size="23.30" textLength="54.90" lengthAdjust="spacingAndGlyphs">24°N</text>
<text x="1429.67" y="300.29" font-size="23.30" textLength="54.90" lengthAdjust="spacingAndGlyphs">27°N</text>
<text x="1429.92" y="232.60" font-size="23.30" textLength="54.64" lengthAdjust="spacingAndGlyphs">30°N</text>
<text x="1429.92" y="162.80" font-size="23.30" textLength="54.64" lengthAdjust="spacingAndGlyphs">33°N</text>
<rect x="112.20" y="756.3" width="116.20" height="17.4" fill="#072a45"/>
<rect x="228.00" y="756.3" width="116.20" height="17.4" fill="#1b3079"/>
<rect x="343.80" y="756.3" width="116.20" height="17.4" fill="#43349d"/>
<rect x="459.60" y="756.3" width="116.20" height="17.4" fill="#634096"/>
<rect x="575.40" y="756.3" width="116.20" height="17.4" fill="#82508c"/>
<rect x="691.20" y="756.3" width="116.20" height="17.4" fill="#a05a84"/>
<rect x="807.00" y="756.3" width="116.20" height="17.4" fill="#c06478"/>
<rect x="922.80" y="756.3" width="116.20" height="17.4" fill="#dd7065"/>
<rect x="1038.60" y="756.3" width="116.20" height="17.4" fill="#f2874b"/>
<rect x="1154.40" y="756.3" width="116.20" height="17.4" fill="#fba43c"/>
<rect x="1270.20" y="756.3" width="116.20" height="17.4" fill="#f6c644"/>
<polygon points="112.5,756.3 48.3,765.0 112.5,773.7" fill="#042333"/>
<polygon points="1386.0,756.3 1449.7,765.0 1386.0,773.7" fill="#e8fa5b"/>
<polygon points="48.3,765.0 112.2,756.3 1386.0,756.3 1449.7,765.0 1386.0,773.7 112.2,773.7" fill="none" stroke="#000" stroke-width="1.1" stroke-linejoin="miter"/>
<path d="M112.2,773.7v6" stroke="#000" stroke-width="1.1"/>
<text x="98.77" y="802.80" font-size="21.90" textLength="25.63" lengthAdjust="spacingAndGlyphs">12</text>
<path d="M343.8,773.7v6" stroke="#000" stroke-width="1.1"/>
<text x="330.39" y="802.80" font-size="21.90" textLength="25.38" lengthAdjust="spacingAndGlyphs">13</text>
<path d="M575.4,773.7v6" stroke="#000" stroke-width="1.1"/>
<text x="562.01" y="802.80" font-size="21.90" textLength="25.12" lengthAdjust="spacingAndGlyphs">14</text>
<path d="M807.0,773.7v6" stroke="#000" stroke-width="1.1"/>
<text x="793.59" y="802.80" font-size="21.90" textLength="25.38" lengthAdjust="spacingAndGlyphs">15</text>
<path d="M1038.6,773.7v6" stroke="#000" stroke-width="1.1"/>
<text x="1025.19" y="802.80" font-size="21.90" textLength="25.38" lengthAdjust="spacingAndGlyphs">16</text>
<path d="M1270.2,773.7v6" stroke="#000" stroke-width="1.1"/>
<text x="1256.77" y="802.80" font-size="21.90" textLength="25.63" lengthAdjust="spacingAndGlyphs">17</text>
<text x="631.85" y="830.10" font-size="21.20" font-weight="bold" textLength="234.23" lengthAdjust="spacingAndGlyphs">Temperature (degC)</text>
<text x="423.85" y="853.40" font-size="15.80" font-weight="bold" font-style="italic" textLength="649.60" lengthAdjust="spacingAndGlyphs">Glider/Argo Search Window: 2025-02-26 14:00:00 to 2025-03-03 12:00:00</text>
<rect x="127" y="878" width="1243" height="108.6" rx="3" ry="3" fill="#fff" stroke="#ccc" stroke-width="1.3"/>
<circle cx="147.4" cy="890.3" r="6.1" fill="#1f77b4" stroke="#000" stroke-width="1.4"/>
<text x="172.23" y="895.05" font-size="14.50" textLength="60.91" lengthAdjust="spacingAndGlyphs">1902282</text>
<polygon points="147.4,905.1 152.7,908.2 152.7,914.3 147.4,917.4 142.1,914.3 142.1,908.2" fill="#4090c7" stroke="#000" stroke-width="1.4" stroke-linejoin="miter"/>
<text x="172.23" y="916.00" font-size="14.50" textLength="60.91" lengthAdjust="spacingAndGlyphs">1902642</text>
<polygon points="147.4,925.8 153.5,930.2 151.2,937.4 143.6,937.4 141.3,930.2" fill="#68abda" stroke="#000" stroke-width="1.4" stroke-linejoin="miter"/>
<text x="172.23" y="936.95" font-size="14.50" textLength="60.74" lengthAdjust="spacingAndGlyphs">1902645</text>
<circle cx="147.4" cy="953.1" r="6.1" fill="#94c8ec" stroke="#000" stroke-width="1.4"/>
<text x="172.62" y="957.90" font-size="14.50" textLength="60.34" lengthAdjust="spacingAndGlyphs">2903886</text>
<polygon points="147.4,968.0 152.7,971.1 152.7,977.1 147.4,980.2 142.1,977.1 142.1,971.1" fill="#c7e8ff" stroke="#000" stroke-width="1.4" stroke-linejoin="miter"/>
<text x="172.78" y="978.85" font-size="14.50" textLength="60.03" lengthAdjust="spacingAndGlyphs">3902314</text>
<polygon points="276.1,883.9 282.2,888.3 279.9,895.5 272.3,895.5 270.0,888.3" fill="#ff7f0e" stroke="#000" stroke-width="1.4" stroke-linejoin="miter"/>
<text x="301.49" y="895.05" font-size="14.50" textLength="60.19" lengthAdjust="spacingAndGlyphs">3902386</text>
<circle cx="276.1" cy="911.2" r="6.1" fill="#ff983c" stroke="#000" stroke-width="1.4"/>
<text x="301.80" y="916.00" font-size="14.50" textLength="59.87" lengthAdjust="spacingAndGlyphs">4902316</text>
<polygon points="276.1,926.1 281.4,929.2 281.4,935.2 276.1,938.3 270.8,935.2 270.8,929.2" fill="#ffb06a" stroke="#000" stroke-width="1.4" stroke-linejoin="miter"/>
<text x="301.80" y="936.95" font-size="14.50" textLength="59.87" lengthAdjust="spacingAndGlyphs">4902328</text>
<polygon points="276.1,946.7 282.2,951.2 279.9,958.3 272.3,958.3 270.0,951.2" fill="#ffc999" stroke="#000" stroke-width="1.4" stroke-linejoin="miter"/>
<text x="301.80" y="957.90" font-size="14.50" textLength="60.03" lengthAdjust="spacingAndGlyphs">4902332</text>
<circle cx="276.1" cy="974.1" r="6.1" fill="#ffe1c7" stroke="#000" stroke-width="1.4"/>
<text x="301.80" y="978.85" font-size="14.50" textLength="59.87" lengthAdjust="spacingAndGlyphs">4902333</text>
<polygon points="404.8,884.2 410.1,887.2 410.1,893.3 404.8,896.4 399.5,893.3 399.5,887.2" fill="#2ca02c" stroke="#000" stroke-width="1.4" stroke-linejoin="miter"/>
<text x="430.51" y="895.05" font-size="14.50" textLength="59.95" lengthAdjust="spacingAndGlyphs">4902929</text>
<polygon points="404.8,904.8 410.9,909.3 408.6,916.4 401.1,916.4 398.7,909.3" fill="#4ab84a" stroke="#000" stroke-width="1.4" stroke-linejoin="miter"/>
<text x="430.51" y="916.00" font-size="14.50" textLength="59.79" lengthAdjust="spacingAndGlyphs">4903010</text>
<circle cx="404.8" cy="932.2" r="6.1" fill="#6dd06d" stroke="#000" stroke-width="1.4"/>
<text x="430.51" y="936.95" font-size="14.50" textLength="59.87" lengthAdjust="spacingAndGlyphs">4903183</text>
<polygon points="404.8,947.0 410.1,950.1 410.1,956.2 404.8,959.2 399.5,956.2 399.5,950.1" fill="#97e797" stroke="#000" stroke-width="1.4" stroke-linejoin="miter"/>
<text x="430.51" y="957.90" font-size="14.50" textLength="59.87" lengthAdjust="spacingAndGlyphs">4903185</text>
<polygon points="404.8,967.7 410.9,972.1 408.6,979.3 401.1,979.3 398.7,972.1" fill="#c7ffc7" stroke="#000" stroke-width="1.4" stroke-linejoin="miter"/>
<text x="430.51" y="978.85" font-size="14.50" textLength="59.87" lengthAdjust="spacingAndGlyphs">4903188</text>
<circle cx="533.5" cy="890.3" r="6.1" fill="#d62728" stroke="#000" stroke-width="1.4"/>
<text x="559.22" y="895.05" font-size="14.50" textLength="59.87" lengthAdjust="spacingAndGlyphs">4903198</text>
<polygon points="533.5,905.1 538.8,908.2 538.8,914.3 533.5,917.4 528.2,914.3 528.2,908.2" fill="#e04a4b" stroke="#000" stroke-width="1.4" stroke-linejoin="miter"/>
<text x="559.22" y="916.00" font-size="14.50" textLength="59.79" lengthAdjust="spacingAndGlyphs">4903200</text>
<polygon points="533.5,925.8 539.6,930.2 537.3,937.4 529.8,937.4 527.4,930.2" fill="#eb7172" stroke="#000" stroke-width="1.4" stroke-linejoin="miter"/>
<text x="559.22" y="936.95" font-size="14.50" textLength="59.87" lengthAdjust="spacingAndGlyphs">4903378</text>
<circle cx="533.5" cy="953.1" r="6.1" fill="#f59a9b" stroke="#000" stroke-width="1.4"/>
<text x="559.22" y="957.90" font-size="14.50" textLength="60.03" lengthAdjust="spacingAndGlyphs">4903397</text>
<polygon points="533.5,968.0 538.8,971.1 538.8,977.1 533.5,980.2 528.2,977.1 528.2,971.1" fill="#ffc7c7" stroke="#000" stroke-width="1.4" stroke-linejoin="miter"/>
<text x="559.22" y="978.85" font-size="14.50" textLength="59.95" lengthAdjust="spacingAndGlyphs">4903399</text>
<polygon points="662.2,883.9 668.3,888.3 666.0,895.5 658.5,895.5 656.1,888.3" fill="#9467bd" stroke="#000" stroke-width="1.4" stroke-linejoin="miter"/>
<text x="687.93" y="895.05" font-size="14.50" textLength="59.95" lengthAdjust="spacingAndGlyphs">4903401</text>
<circle cx="662.2" cy="911.2" r="6.1" fill="#a77cce" stroke="#000" stroke-width="1.4"/>
<text x="687.93" y="916.00" font-size="14.50" textLength="59.87" lengthAdjust="spacingAndGlyphs">4903403</text>
<polygon points="662.2,926.1 667.5,929.2 667.5,935.2 662.2,938.3 657.0,935.2 657.0,929.2" fill="#ba93de" stroke="#000" stroke-width="1.4" stroke-linejoin="miter"/>
<text x="687.93" y="936.95" font-size="14.50" textLength="59.87" lengthAdjust="spacingAndGlyphs">4903405</text>
<polygon points="662.2,946.7 668.3,951.2 666.0,958.3 658.5,958.3 656.1,951.2" fill="#cfacee" stroke="#000" stroke-width="1.4" stroke-linejoin="miter"/>
<text x="687.93" y="957.90" font-size="14.50" textLength="59.72" lengthAdjust="spacingAndGlyphs">4903504</text>
<circle cx="662.2" cy="974.1" r="6.1" fill="#e4c7ff" stroke="#000" stroke-width="1.4"/>
<text x="687.93" y="978.85" font-size="14.50" textLength="59.87" lengthAdjust="spacingAndGlyphs">4903516</text>
<polygon points="791.0,884.2 796.2,887.2 796.2,893.3 791.0,896.4 785.7,893.3 785.7,887.2" fill="#8c564b" stroke="#000" stroke-width="1.4" stroke-linejoin="miter"/>
<text x="816.64" y="895.05" font-size="14.50" textLength="59.87" lengthAdjust="spacingAndGlyphs">4903518</text>
<polygon points="791.0,904.8 797.0,909.3 794.7,916.4 787.2,916.4 784.9,909.3" fill="#a97065" stroke="#000" stroke-width="1.4" stroke-linejoin="miter"/>
<text x="816.64" y="916.00" font-size="14.50" textLength="59.87" lengthAdjust="spacingAndGlyphs">4903746</text>
<circle cx="791.0" cy="932.2" r="6.1" fill="#c68d82" stroke="#000" stroke-width="1.4"/>
<text x="816.64" y="936.95" font-size="14.50" textLength="59.87" lengthAdjust="spacingAndGlyphs">4903753</text>
<polygon points="791.0,947.0 796.2,950.1 796.2,956.2 791.0,959.2 785.7,956.2 785.7,950.1" fill="#e2ada3" stroke="#000" stroke-width="1.4" stroke-linejoin="miter"/>
<text x="816.33" y="957.90" font-size="14.50" textLength="60.19" lengthAdjust="spacingAndGlyphs">5904948</text>
<polygon points="791.0,967.7 797.0,972.1 794.7,979.3 787.2,979.3 784.9,972.1" fill="#ffd0c7" stroke="#000" stroke-width="1.4" stroke-linejoin="miter"/>
<text x="816.33" y="978.85" font-size="14.50" textLength="60.34" lengthAdjust="spacingAndGlyphs">5906017</text>
<circle cx="919.7" cy="890.3" r="6.1" fill="#e377c2" stroke="#000" stroke-width="1.4"/>
<text x="945.04" y="895.05" font-size="14.50" textLength="60.19" lengthAdjust="spacingAndGlyphs">5906023</text>
<polygon points="919.7,905.1 924.9,908.2 924.9,914.3 919.7,917.4 914.4,914.3 914.4,908.2" fill="#ea8acd" stroke="#000" stroke-width="1.4" stroke-linejoin="miter"/>
<text x="945.04" y="916.00" font-size="14.50" textLength="60.19" lengthAdjust="spacingAndGlyphs">5906088</text>
<polygon points="919.7,925.8 925.8,930.2 923.4,937.4 915.9,937.4 913.6,930.2" fill="#f19dd7" stroke="#000" stroke-width="1.4" stroke-linejoin="miter"/>
<text x="945.04" y="936.95" font-size="14.50" textLength="60.19" lengthAdjust="spacingAndGlyphs">5906405</text>
<circle cx="919.7" cy="953.1" r="6.1" fill="#f8b2e2" stroke="#000" stroke-width="1.4"/>
<text x="945.04" y="957.90" font-size="14.50" textLength="60.19" lengthAdjust="spacingAndGlyphs">5906445</text>
<polygon points="919.7,968.0 924.9,971.1 924.9,977.1 919.7,980.2 914.4,977.1 914.4,971.1" fill="#ffc7ee" stroke="#000" stroke-width="1.4" stroke-linejoin="miter"/>
<text x="945.04" y="978.85" font-size="14.50" textLength="60.19" lengthAdjust="spacingAndGlyphs">5906468</text>
<polygon points="1048.4,883.9 1054.5,888.3 1052.1,895.5 1044.6,895.5 1042.3,888.3" fill="#7f7f7f" stroke="#000" stroke-width="1.4" stroke-linejoin="miter"/>
<text x="1073.75" y="895.05" font-size="14.50" textLength="60.27" lengthAdjust="spacingAndGlyphs">5906481</text>
<circle cx="1048.4" cy="911.2" r="6.1" fill="#9f9696" stroke="#000" stroke-width="1.4"/>
<text x="1073.75" y="916.00" font-size="14.50" textLength="60.34" lengthAdjust="spacingAndGlyphs">5906482</text>
<polygon points="1048.4,926.1 1053.7,929.2 1053.7,935.2 1048.4,938.3 1043.1,935.2 1043.1,929.2" fill="#bfaaaa" stroke="#000" stroke-width="1.4" stroke-linejoin="miter"/>
<text x="1073.75" y="936.95" font-size="14.50" textLength="60.19" lengthAdjust="spacingAndGlyphs">5906563</text>
<polygon points="1048.4,946.7 1054.5,951.2 1052.1,958.3 1044.6,958.3 1042.3,951.2" fill="#dfbaba" stroke="#000" stroke-width="1.4" stroke-linejoin="miter"/>
<text x="1073.75" y="957.90" font-size="14.50" textLength="60.34" lengthAdjust="spacingAndGlyphs">5906797</text>
<circle cx="1048.4" cy="974.1" r="6.1" fill="#ffc7c7" stroke="#000" stroke-width="1.4"/>
<text x="1073.59" y="978.85" font-size="14.50" textLength="60.42" lengthAdjust="spacingAndGlyphs">6990601</text>
<polygon points="1177.1,884.2 1182.4,887.2 1182.4,893.3 1177.1,896.4 1171.8,893.3 1171.8,887.2" fill="#bcbd22" stroke="#000" stroke-width="1.4" stroke-linejoin="miter"/>
<text x="1202.31" y="895.05" font-size="14.50" textLength="60.19" lengthAdjust="spacingAndGlyphs">7902104</text>
<path d="M1161.6,911.2h31" stroke="#1f77b4" stroke-width="2.9"/>
<polygon points="1177.1,900.0 1165.8,922.5 1188.4,922.5" fill="#1f77b4" stroke="#000" stroke-width="2.0" stroke-linejoin="miter"/>
<text x="1202.61" y="916.00" font-size="14.50" textLength="162.14" lengthAdjust="spacingAndGlyphs">sp041-20250224T1815</text>
<path d="M1161.6,932.2h31" stroke="#ff7f0e" stroke-width="2.9"/>
<polygon points="1177.1,920.9 1165.8,943.5 1188.4,943.5" fill="#ff7f0e" stroke="#000" stroke-width="2.0" stroke-linejoin="miter"/>
<text x="1202.61" y="936.95" font-size="14.50" textLength="162.06" lengthAdjust="spacingAndGlyphs">sp055-20250204T1600</text>
<path d="M1161.6,953.1h31" stroke="#2ca02c" stroke-width="2.9"/>
<polygon points="1177.1,941.9 1165.8,964.4 1188.4,964.4" fill="#2ca02c" stroke="#000" stroke-width="2.0" stroke-linejoin="miter"/>
<text x="1202.61" y="957.90" font-size="14.50" textLength="162.24" lengthAdjust="spacingAndGlyphs">sp058-20241121T1821</text>
</svg></body></html>
